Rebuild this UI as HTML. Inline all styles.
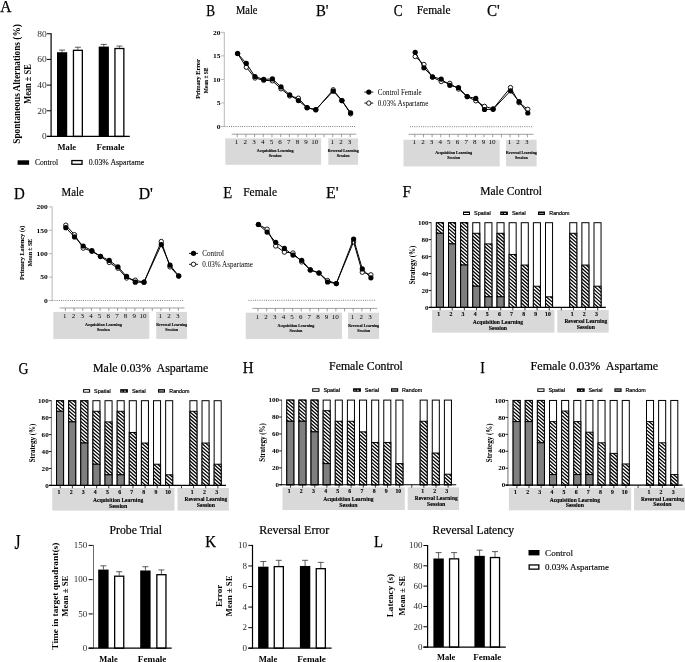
<!DOCTYPE html>
<html><head><meta charset="utf-8"><title>Figure</title>
<style>html,body{margin:0;padding:0;background:#fff}svg{display:block;will-change:transform;transform:translateZ(0)}.fs{font-family:"Liberation Serif",serif}.fn{font-family:"Liberation Sans",sans-serif}.b{font-weight:bold}</style>
</head><body>
<svg width="685" height="662" viewBox="0 0 685 662">
<rect width="685" height="662" fill="#fff"/>
<text class="fs" x="0.2" y="12.0" font-size="17" textLength="11.2" lengthAdjust="spacingAndGlyphs" stroke="#000" stroke-width="0.25">A</text>
<text class="fs" x="206.2" y="16.0" font-size="17" textLength="8.8" lengthAdjust="spacingAndGlyphs" stroke="#000" stroke-width="0.25">B</text>
<text class="fs" x="316.0" y="16.0" font-size="17" textLength="12.5" lengthAdjust="spacingAndGlyphs" stroke="#000" stroke-width="0.25">B'</text>
<text class="fs" x="393.8" y="16.4" font-size="17" textLength="8.9" lengthAdjust="spacingAndGlyphs" stroke="#000" stroke-width="0.25">C</text>
<text class="fs" x="487.0" y="16.4" font-size="17" textLength="12.8" lengthAdjust="spacingAndGlyphs" stroke="#000" stroke-width="0.25">C'</text>
<text class="fs" x="13.9" y="198.6" font-size="17" textLength="10.8" lengthAdjust="spacingAndGlyphs" stroke="#000" stroke-width="0.25">D</text>
<text class="fs" x="138.7" y="198.6" font-size="17" textLength="14.2" lengthAdjust="spacingAndGlyphs" stroke="#000" stroke-width="0.25">D'</text>
<text class="fs" x="223.3" y="197.6" font-size="17" textLength="9.0" lengthAdjust="spacingAndGlyphs" stroke="#000" stroke-width="0.25">E</text>
<text class="fs" x="326.0" y="197.6" font-size="17" textLength="12.6" lengthAdjust="spacingAndGlyphs" stroke="#000" stroke-width="0.25">E'</text>
<text class="fs" x="402.6" y="197.0" font-size="17" textLength="8.6" lengthAdjust="spacingAndGlyphs" stroke="#000" stroke-width="0.25">F</text>
<text class="fs" x="18.5" y="373.8" font-size="17" textLength="10.0" lengthAdjust="spacingAndGlyphs" stroke="#000" stroke-width="0.25">G</text>
<text class="fs" x="242.8" y="373.4" font-size="17" textLength="10.8" lengthAdjust="spacingAndGlyphs" stroke="#000" stroke-width="0.25">H</text>
<text class="fs" x="480.2" y="373.4" font-size="17" textLength="4.6" lengthAdjust="spacingAndGlyphs" stroke="#000" stroke-width="0.25">I</text>
<text class="fs" x="14.6" y="549.2" font-size="20" textLength="6.0" lengthAdjust="spacingAndGlyphs" stroke="#000" stroke-width="0.25">J</text>
<text class="fs" x="205.2" y="546.9" font-size="17" textLength="10.8" lengthAdjust="spacingAndGlyphs" stroke="#000" stroke-width="0.25">K</text>
<text class="fs" x="373.9" y="546.9" font-size="17" textLength="9.0" lengthAdjust="spacingAndGlyphs" stroke="#000" stroke-width="0.25">L</text>
<line x1="62.10" y1="50.05" x2="62.10" y2="52.24" stroke="#333" stroke-width="0.8"/>
<line x1="59.10" y1="50.05" x2="65.10" y2="50.05" stroke="#333" stroke-width="0.8"/>
<line x1="77.90" y1="47.23" x2="77.90" y2="49.67" stroke="#333" stroke-width="0.8"/>
<line x1="74.90" y1="47.23" x2="80.90" y2="47.23" stroke="#333" stroke-width="0.8"/>
<line x1="103.80" y1="44.41" x2="103.80" y2="46.59" stroke="#333" stroke-width="0.8"/>
<line x1="100.80" y1="44.41" x2="106.80" y2="44.41" stroke="#333" stroke-width="0.8"/>
<line x1="119.40" y1="46.07" x2="119.40" y2="47.87" stroke="#333" stroke-width="0.8"/>
<line x1="116.40" y1="46.07" x2="122.40" y2="46.07" stroke="#333" stroke-width="0.8"/>
<rect x="57.00" y="52.24" width="10.20" height="84.21" fill="#000"/>
<rect x="73.45" y="50.32" width="8.90" height="86.13" fill="#fff" stroke="#000" stroke-width="1.3"/>
<rect x="98.70" y="46.59" width="10.20" height="89.86" fill="#000"/>
<rect x="114.95" y="48.52" width="8.90" height="87.93" fill="#fff" stroke="#000" stroke-width="1.3"/>
<line x1="51.10" y1="33.25" x2="51.10" y2="137.05" stroke="#000" stroke-width="1.2"/>
<line x1="46.90" y1="136.45" x2="129.80" y2="136.45" stroke="#000" stroke-width="1.25"/>
<line x1="46.90" y1="136.45" x2="51.10" y2="136.45" stroke="#000" stroke-width="1.0"/>
<text class="fs" x="46.8" y="139.3" font-size="8.6" text-anchor="end" textLength="4.7" lengthAdjust="spacingAndGlyphs" fill="#2a2a2a">0</text>
<line x1="46.90" y1="110.77" x2="51.10" y2="110.77" stroke="#000" stroke-width="1.0"/>
<text class="fs" x="46.8" y="113.6" font-size="8.6" text-anchor="end" textLength="9.5" lengthAdjust="spacingAndGlyphs" fill="#2a2a2a">20</text>
<line x1="46.90" y1="85.10" x2="51.10" y2="85.10" stroke="#000" stroke-width="1.0"/>
<text class="fs" x="46.8" y="87.9" font-size="8.6" text-anchor="end" textLength="9.5" lengthAdjust="spacingAndGlyphs" fill="#2a2a2a">40</text>
<line x1="46.90" y1="59.42" x2="51.10" y2="59.42" stroke="#000" stroke-width="1.0"/>
<text class="fs" x="46.8" y="62.3" font-size="8.6" text-anchor="end" textLength="9.5" lengthAdjust="spacingAndGlyphs" fill="#2a2a2a">60</text>
<line x1="46.90" y1="33.75" x2="51.10" y2="33.75" stroke="#000" stroke-width="1.0"/>
<text class="fs" x="46.8" y="36.6" font-size="8.6" text-anchor="end" textLength="9.5" lengthAdjust="spacingAndGlyphs" fill="#2a2a2a">80</text>
<text class="fs b" x="66.8" y="149.7" font-size="9.1" text-anchor="middle" textLength="18.5" lengthAdjust="spacingAndGlyphs">Male</text>
<text class="fs b" x="110.4" y="149.7" font-size="9.1" text-anchor="middle" textLength="28.0" lengthAdjust="spacingAndGlyphs">Female</text>
<text class="fs b" font-size="9.4" text-anchor="middle" textLength="119.5" lengthAdjust="spacingAndGlyphs" transform="translate(19.6,84.0) rotate(-90)">Spontaneous Alternations (%)</text>
<text class="fs b" font-size="9.4" text-anchor="middle" textLength="39.5" lengthAdjust="spacingAndGlyphs" transform="translate(31.3,84.0) rotate(-90)">Mean ± SE</text>
<rect x="17.60" y="160.30" width="11.50" height="4.50" fill="#000"/>
<text class="fs" x="35.0" y="165.0" font-size="8.1" textLength="23.0" lengthAdjust="spacingAndGlyphs" stroke="#000" stroke-width="0.1">Control</text>
<rect x="71.85" y="160.55" width="10.20" height="3.70" fill="#fff" stroke="#000" stroke-width="1.3"/>
<text class="fs" x="88.7" y="165.0" font-size="8.1" textLength="55.6" lengthAdjust="spacingAndGlyphs" stroke="#000" stroke-width="0.1">0.03% Aspartame</text>
<text class="fs" x="236.0" y="13.7" font-size="11.7" textLength="21.5" lengthAdjust="spacingAndGlyphs" stroke="#000" stroke-width="0.2">Male</text>
<rect x="225.30" y="138.40" width="95.80" height="26.40" fill="#d9d9d9"/>
<rect x="328.30" y="138.40" width="29.80" height="26.40" fill="#d9d9d9"/>
<line x1="224.50" y1="126.50" x2="355.00" y2="126.50" stroke="#333" stroke-width="0.7" stroke-dasharray="0.9 1.3"/>
<line x1="231.70" y1="134.20" x2="356.30" y2="134.20" stroke="#777" stroke-width="0.7"/>
<line x1="237.20" y1="134.20" x2="237.20" y2="137.20" stroke="#777" stroke-width="0.7"/>
<line x1="245.89" y1="134.20" x2="245.89" y2="137.20" stroke="#777" stroke-width="0.7"/>
<line x1="254.58" y1="134.20" x2="254.58" y2="137.20" stroke="#777" stroke-width="0.7"/>
<line x1="263.27" y1="134.20" x2="263.27" y2="137.20" stroke="#777" stroke-width="0.7"/>
<line x1="271.96" y1="134.20" x2="271.96" y2="137.20" stroke="#777" stroke-width="0.7"/>
<line x1="280.65" y1="134.20" x2="280.65" y2="137.20" stroke="#777" stroke-width="0.7"/>
<line x1="289.34" y1="134.20" x2="289.34" y2="137.20" stroke="#777" stroke-width="0.7"/>
<line x1="298.03" y1="134.20" x2="298.03" y2="137.20" stroke="#777" stroke-width="0.7"/>
<line x1="306.72" y1="134.20" x2="306.72" y2="137.20" stroke="#777" stroke-width="0.7"/>
<line x1="315.41" y1="134.20" x2="315.41" y2="137.20" stroke="#777" stroke-width="0.7"/>
<line x1="324.10" y1="134.20" x2="324.10" y2="137.20" stroke="#777" stroke-width="0.7"/>
<line x1="332.79" y1="134.20" x2="332.79" y2="137.20" stroke="#777" stroke-width="0.7"/>
<line x1="341.48" y1="134.20" x2="341.48" y2="137.20" stroke="#777" stroke-width="0.7"/>
<line x1="350.17" y1="134.20" x2="350.17" y2="137.20" stroke="#777" stroke-width="0.7"/>
<text class="fs" x="236.6" y="144.3" font-size="6.5" text-anchor="middle" textLength="3.5" lengthAdjust="spacingAndGlyphs">1</text>
<text class="fs" x="245.3" y="144.3" font-size="6.5" text-anchor="middle" textLength="3.5" lengthAdjust="spacingAndGlyphs">2</text>
<text class="fs" x="254.0" y="144.3" font-size="6.5" text-anchor="middle" textLength="3.5" lengthAdjust="spacingAndGlyphs">3</text>
<text class="fs" x="262.7" y="144.3" font-size="6.5" text-anchor="middle" textLength="3.5" lengthAdjust="spacingAndGlyphs">4</text>
<text class="fs" x="271.4" y="144.3" font-size="6.5" text-anchor="middle" textLength="3.5" lengthAdjust="spacingAndGlyphs">5</text>
<text class="fs" x="280.0" y="144.3" font-size="6.5" text-anchor="middle" textLength="3.5" lengthAdjust="spacingAndGlyphs">6</text>
<text class="fs" x="288.7" y="144.3" font-size="6.5" text-anchor="middle" textLength="3.5" lengthAdjust="spacingAndGlyphs">7</text>
<text class="fs" x="297.4" y="144.3" font-size="6.5" text-anchor="middle" textLength="3.5" lengthAdjust="spacingAndGlyphs">8</text>
<text class="fs" x="306.1" y="144.3" font-size="6.5" text-anchor="middle" textLength="3.5" lengthAdjust="spacingAndGlyphs">9</text>
<text class="fs" x="314.8" y="144.3" font-size="6.5" text-anchor="middle" textLength="7.1" lengthAdjust="spacingAndGlyphs">10</text>
<text class="fs" x="332.2" y="144.3" font-size="6.5" text-anchor="middle" textLength="3.5" lengthAdjust="spacingAndGlyphs">1</text>
<text class="fs" x="340.9" y="144.3" font-size="6.5" text-anchor="middle" textLength="3.5" lengthAdjust="spacingAndGlyphs">2</text>
<text class="fs" x="349.6" y="144.3" font-size="6.5" text-anchor="middle" textLength="3.5" lengthAdjust="spacingAndGlyphs">3</text>
<text class="fs b" x="275.2" y="152.4" font-size="4.7" text-anchor="middle" textLength="36.8" lengthAdjust="spacingAndGlyphs" stroke="#000" stroke-width="0.12">Acquisition Learning</text>
<text class="fs b" x="275.2" y="157.2" font-size="4.7" text-anchor="middle" textLength="12.8" lengthAdjust="spacingAndGlyphs" stroke="#000" stroke-width="0.12">Session</text>
<text class="fs b" x="343.2" y="152.4" font-size="4.7" text-anchor="middle" textLength="30.8" lengthAdjust="spacingAndGlyphs" stroke="#000" stroke-width="0.12">Reversal Learning</text>
<text class="fs b" x="343.2" y="157.2" font-size="4.7" text-anchor="middle" textLength="12.8" lengthAdjust="spacingAndGlyphs" stroke="#000" stroke-width="0.12">Session</text>
<line x1="224.30" y1="32.00" x2="224.30" y2="126.80" stroke="#999" stroke-width="0.7"/>
<line x1="221.10" y1="126.50" x2="224.30" y2="126.50" stroke="#999" stroke-width="0.7"/>
<text class="fs b" x="220.6" y="128.8" font-size="6.6" text-anchor="end" textLength="3.8" lengthAdjust="spacingAndGlyphs">0</text>
<line x1="221.10" y1="102.95" x2="224.30" y2="102.95" stroke="#999" stroke-width="0.7"/>
<text class="fs b" x="220.6" y="105.2" font-size="6.6" text-anchor="end" textLength="3.8" lengthAdjust="spacingAndGlyphs">5</text>
<line x1="221.10" y1="79.40" x2="224.30" y2="79.40" stroke="#999" stroke-width="0.7"/>
<text class="fs b" x="220.6" y="81.7" font-size="6.6" text-anchor="end" textLength="7.5" lengthAdjust="spacingAndGlyphs">10</text>
<line x1="221.10" y1="55.85" x2="224.30" y2="55.85" stroke="#999" stroke-width="0.7"/>
<text class="fs b" x="220.6" y="58.1" font-size="6.6" text-anchor="end" textLength="7.5" lengthAdjust="spacingAndGlyphs">15</text>
<line x1="221.10" y1="32.30" x2="224.30" y2="32.30" stroke="#999" stroke-width="0.7"/>
<text class="fs b" x="220.6" y="34.5" font-size="6.6" text-anchor="end" textLength="7.5" lengthAdjust="spacingAndGlyphs">20</text>
<polyline fill="none" stroke="#000" stroke-width="1.0" stroke-linejoin="round" points="237.6,53.5 246.3,67.2 255.0,78.0 263.7,80.3 272.4,80.8 281.0,88.8 289.7,95.9 298.4,98.2 307.1,107.7 315.8,110.0 333.2,89.8 341.9,100.6 350.6,113.8"/>
<circle cx="237.6" cy="53.5" r="2.2" fill="#fff" stroke="#000" stroke-width="0.9"/>
<circle cx="246.3" cy="67.2" r="2.2" fill="#fff" stroke="#000" stroke-width="0.9"/>
<circle cx="255.0" cy="78.0" r="2.2" fill="#fff" stroke="#000" stroke-width="0.9"/>
<circle cx="263.7" cy="80.3" r="2.2" fill="#fff" stroke="#000" stroke-width="0.9"/>
<circle cx="272.4" cy="80.8" r="2.2" fill="#fff" stroke="#000" stroke-width="0.9"/>
<circle cx="281.0" cy="88.8" r="2.2" fill="#fff" stroke="#000" stroke-width="0.9"/>
<circle cx="289.7" cy="95.9" r="2.2" fill="#fff" stroke="#000" stroke-width="0.9"/>
<circle cx="298.4" cy="98.2" r="2.2" fill="#fff" stroke="#000" stroke-width="0.9"/>
<circle cx="307.1" cy="107.7" r="2.2" fill="#fff" stroke="#000" stroke-width="0.9"/>
<circle cx="315.8" cy="110.0" r="2.2" fill="#fff" stroke="#000" stroke-width="0.9"/>
<circle cx="333.2" cy="89.8" r="2.2" fill="#fff" stroke="#000" stroke-width="0.9"/>
<circle cx="341.9" cy="100.6" r="2.2" fill="#fff" stroke="#000" stroke-width="0.9"/>
<circle cx="350.6" cy="113.8" r="2.2" fill="#fff" stroke="#000" stroke-width="0.9"/>
<polyline fill="none" stroke="#000" stroke-width="1.0" stroke-linejoin="round" points="237.6,53.5 246.3,63.4 255.0,76.6 263.7,79.4 272.4,78.9 281.0,86.9 289.7,94.9 298.4,100.6 307.1,107.7 315.8,109.5 333.2,91.2 341.9,100.6 350.6,112.8"/>
<circle cx="237.6" cy="53.5" r="2.6" fill="#000"/>
<circle cx="246.3" cy="63.4" r="2.6" fill="#000"/>
<circle cx="255.0" cy="76.6" r="2.6" fill="#000"/>
<circle cx="263.7" cy="79.4" r="2.6" fill="#000"/>
<circle cx="272.4" cy="78.9" r="2.6" fill="#000"/>
<circle cx="281.0" cy="86.9" r="2.6" fill="#000"/>
<circle cx="289.7" cy="94.9" r="2.6" fill="#000"/>
<circle cx="298.4" cy="100.6" r="2.6" fill="#000"/>
<circle cx="307.1" cy="107.7" r="2.6" fill="#000"/>
<circle cx="315.8" cy="109.5" r="2.6" fill="#000"/>
<circle cx="333.2" cy="91.2" r="2.6" fill="#000"/>
<circle cx="341.9" cy="100.6" r="2.6" fill="#000"/>
<circle cx="350.6" cy="112.8" r="2.6" fill="#000"/>
<text class="fs b" font-size="6.8" text-anchor="middle" textLength="39.5" lengthAdjust="spacingAndGlyphs" stroke="#000" stroke-width="0.1" transform="translate(199.5,79.0) rotate(-90)">Primary Error</text>
<text class="fs b" font-size="6.6" text-anchor="middle" textLength="25.8" lengthAdjust="spacingAndGlyphs" stroke="#000" stroke-width="0.1" transform="translate(207.9,80.4) rotate(-90)">Mean ± SE</text>
<text class="fs" x="416.7" y="13.5" font-size="11.7" textLength="33.8" lengthAdjust="spacingAndGlyphs" stroke="#000" stroke-width="0.2">Female</text>
<rect x="403.50" y="139.70" width="96.20" height="26.70" fill="#d9d9d9"/>
<rect x="506.10" y="139.70" width="30.50" height="26.70" fill="#d9d9d9"/>
<line x1="410.00" y1="126.70" x2="532.80" y2="126.70" stroke="#333" stroke-width="0.7" stroke-dasharray="0.9 1.3"/>
<line x1="408.60" y1="134.30" x2="533.60" y2="134.30" stroke="#777" stroke-width="0.7"/>
<line x1="414.80" y1="134.30" x2="414.80" y2="137.30" stroke="#777" stroke-width="0.7"/>
<line x1="423.46" y1="134.30" x2="423.46" y2="137.30" stroke="#777" stroke-width="0.7"/>
<line x1="432.12" y1="134.30" x2="432.12" y2="137.30" stroke="#777" stroke-width="0.7"/>
<line x1="440.78" y1="134.30" x2="440.78" y2="137.30" stroke="#777" stroke-width="0.7"/>
<line x1="449.44" y1="134.30" x2="449.44" y2="137.30" stroke="#777" stroke-width="0.7"/>
<line x1="458.10" y1="134.30" x2="458.10" y2="137.30" stroke="#777" stroke-width="0.7"/>
<line x1="466.76" y1="134.30" x2="466.76" y2="137.30" stroke="#777" stroke-width="0.7"/>
<line x1="475.42" y1="134.30" x2="475.42" y2="137.30" stroke="#777" stroke-width="0.7"/>
<line x1="484.08" y1="134.30" x2="484.08" y2="137.30" stroke="#777" stroke-width="0.7"/>
<line x1="492.74" y1="134.30" x2="492.74" y2="137.30" stroke="#777" stroke-width="0.7"/>
<line x1="501.40" y1="134.30" x2="501.40" y2="137.30" stroke="#777" stroke-width="0.7"/>
<line x1="510.06" y1="134.30" x2="510.06" y2="137.30" stroke="#777" stroke-width="0.7"/>
<line x1="518.72" y1="134.30" x2="518.72" y2="137.30" stroke="#777" stroke-width="0.7"/>
<line x1="527.38" y1="134.30" x2="527.38" y2="137.30" stroke="#777" stroke-width="0.7"/>
<text class="fs" x="414.2" y="144.0" font-size="6.5" text-anchor="middle" textLength="3.5" lengthAdjust="spacingAndGlyphs">1</text>
<text class="fs" x="422.9" y="144.0" font-size="6.5" text-anchor="middle" textLength="3.5" lengthAdjust="spacingAndGlyphs">2</text>
<text class="fs" x="431.5" y="144.0" font-size="6.5" text-anchor="middle" textLength="3.5" lengthAdjust="spacingAndGlyphs">3</text>
<text class="fs" x="440.2" y="144.0" font-size="6.5" text-anchor="middle" textLength="3.5" lengthAdjust="spacingAndGlyphs">4</text>
<text class="fs" x="448.8" y="144.0" font-size="6.5" text-anchor="middle" textLength="3.5" lengthAdjust="spacingAndGlyphs">5</text>
<text class="fs" x="457.5" y="144.0" font-size="6.5" text-anchor="middle" textLength="3.5" lengthAdjust="spacingAndGlyphs">6</text>
<text class="fs" x="466.2" y="144.0" font-size="6.5" text-anchor="middle" textLength="3.5" lengthAdjust="spacingAndGlyphs">7</text>
<text class="fs" x="474.8" y="144.0" font-size="6.5" text-anchor="middle" textLength="3.5" lengthAdjust="spacingAndGlyphs">8</text>
<text class="fs" x="483.5" y="144.0" font-size="6.5" text-anchor="middle" textLength="3.5" lengthAdjust="spacingAndGlyphs">9</text>
<text class="fs" x="492.1" y="144.0" font-size="6.5" text-anchor="middle" textLength="7.1" lengthAdjust="spacingAndGlyphs">10</text>
<text class="fs" x="509.5" y="144.0" font-size="6.5" text-anchor="middle" textLength="3.5" lengthAdjust="spacingAndGlyphs">1</text>
<text class="fs" x="518.1" y="144.0" font-size="6.5" text-anchor="middle" textLength="3.5" lengthAdjust="spacingAndGlyphs">2</text>
<text class="fs" x="526.8" y="144.0" font-size="6.5" text-anchor="middle" textLength="3.5" lengthAdjust="spacingAndGlyphs">3</text>
<text class="fs b" x="453.6" y="153.7" font-size="4.7" text-anchor="middle" textLength="36.8" lengthAdjust="spacingAndGlyphs" stroke="#000" stroke-width="0.12">Acquisition Learning</text>
<text class="fs b" x="453.6" y="158.5" font-size="4.7" text-anchor="middle" textLength="12.8" lengthAdjust="spacingAndGlyphs" stroke="#000" stroke-width="0.12">Session</text>
<text class="fs b" x="521.4" y="153.7" font-size="4.7" text-anchor="middle" textLength="30.8" lengthAdjust="spacingAndGlyphs" stroke="#000" stroke-width="0.12">Reversal Learning</text>
<text class="fs b" x="521.4" y="158.5" font-size="4.7" text-anchor="middle" textLength="12.8" lengthAdjust="spacingAndGlyphs" stroke="#000" stroke-width="0.12">Session</text>
<polyline fill="none" stroke="#000" stroke-width="1.0" stroke-linejoin="round" points="415.2,56.5 423.9,64.5 432.5,77.2 441.2,81.5 449.8,83.4 458.5,89.0 467.2,96.6 475.8,100.8 484.5,106.4 493.1,108.8 510.5,87.6 519.1,102.7 527.8,109.3"/>
<circle cx="415.2" cy="56.5" r="2.2" fill="#fff" stroke="#000" stroke-width="0.9"/>
<circle cx="423.9" cy="64.5" r="2.2" fill="#fff" stroke="#000" stroke-width="0.9"/>
<circle cx="432.5" cy="77.2" r="2.2" fill="#fff" stroke="#000" stroke-width="0.9"/>
<circle cx="441.2" cy="81.5" r="2.2" fill="#fff" stroke="#000" stroke-width="0.9"/>
<circle cx="449.8" cy="83.4" r="2.2" fill="#fff" stroke="#000" stroke-width="0.9"/>
<circle cx="458.5" cy="89.0" r="2.2" fill="#fff" stroke="#000" stroke-width="0.9"/>
<circle cx="467.2" cy="96.6" r="2.2" fill="#fff" stroke="#000" stroke-width="0.9"/>
<circle cx="475.8" cy="100.8" r="2.2" fill="#fff" stroke="#000" stroke-width="0.9"/>
<circle cx="484.5" cy="106.4" r="2.2" fill="#fff" stroke="#000" stroke-width="0.9"/>
<circle cx="493.1" cy="108.8" r="2.2" fill="#fff" stroke="#000" stroke-width="0.9"/>
<circle cx="510.5" cy="87.6" r="2.2" fill="#fff" stroke="#000" stroke-width="0.9"/>
<circle cx="519.1" cy="102.7" r="2.2" fill="#fff" stroke="#000" stroke-width="0.9"/>
<circle cx="527.8" cy="109.3" r="2.2" fill="#fff" stroke="#000" stroke-width="0.9"/>
<polyline fill="none" stroke="#000" stroke-width="1.0" stroke-linejoin="round" points="415.2,52.3 423.9,67.8 432.5,76.8 441.2,79.1 449.8,85.3 458.5,87.6 467.2,96.6 475.8,98.4 484.5,109.5 493.1,109.3 510.5,90.9 519.1,101.7 527.8,113.0"/>
<circle cx="415.2" cy="52.3" r="2.6" fill="#000"/>
<circle cx="423.9" cy="67.8" r="2.6" fill="#000"/>
<circle cx="432.5" cy="76.8" r="2.6" fill="#000"/>
<circle cx="441.2" cy="79.1" r="2.6" fill="#000"/>
<circle cx="449.8" cy="85.3" r="2.6" fill="#000"/>
<circle cx="458.5" cy="87.6" r="2.6" fill="#000"/>
<circle cx="467.2" cy="96.6" r="2.6" fill="#000"/>
<circle cx="475.8" cy="98.4" r="2.6" fill="#000"/>
<circle cx="484.5" cy="109.5" r="2.6" fill="#000"/>
<circle cx="493.1" cy="109.3" r="2.6" fill="#000"/>
<circle cx="510.5" cy="90.9" r="2.6" fill="#000"/>
<circle cx="519.1" cy="101.7" r="2.6" fill="#000"/>
<circle cx="527.8" cy="113.0" r="2.6" fill="#000"/>
<line x1="364.30" y1="92.10" x2="373.30" y2="92.10" stroke="#000" stroke-width="0.9"/>
<circle cx="368.8" cy="92.1" r="2.6" fill="#000"/>
<line x1="364.30" y1="103.10" x2="373.30" y2="103.10" stroke="#000" stroke-width="0.9"/>
<circle cx="368.8" cy="103.1" r="2.2" fill="#fff" stroke="#000" stroke-width="0.9"/>
<text class="fs" x="377.8" y="94.5" font-size="7.7" textLength="43.8" lengthAdjust="spacingAndGlyphs">Control Female</text>
<text class="fs" x="377.8" y="105.5" font-size="7.7" textLength="50.5" lengthAdjust="spacingAndGlyphs">0.03% Aspartame</text>
<text class="fs" x="61.6" y="195.8" font-size="11.7" textLength="22.2" lengthAdjust="spacingAndGlyphs" stroke="#000" stroke-width="0.2">Male</text>
<rect x="53.30" y="311.90" width="96.00" height="27.00" fill="#d9d9d9"/>
<rect x="156.20" y="311.90" width="30.80" height="27.00" fill="#d9d9d9"/>
<line x1="52.30" y1="300.50" x2="183.00" y2="300.50" stroke="#333" stroke-width="0.7" stroke-dasharray="0.9 1.3"/>
<line x1="59.60" y1="308.00" x2="184.50" y2="308.00" stroke="#777" stroke-width="0.7"/>
<line x1="65.40" y1="308.00" x2="65.40" y2="311.00" stroke="#777" stroke-width="0.7"/>
<line x1="74.09" y1="308.00" x2="74.09" y2="311.00" stroke="#777" stroke-width="0.7"/>
<line x1="82.77" y1="308.00" x2="82.77" y2="311.00" stroke="#777" stroke-width="0.7"/>
<line x1="91.46" y1="308.00" x2="91.46" y2="311.00" stroke="#777" stroke-width="0.7"/>
<line x1="100.14" y1="308.00" x2="100.14" y2="311.00" stroke="#777" stroke-width="0.7"/>
<line x1="108.83" y1="308.00" x2="108.83" y2="311.00" stroke="#777" stroke-width="0.7"/>
<line x1="117.52" y1="308.00" x2="117.52" y2="311.00" stroke="#777" stroke-width="0.7"/>
<line x1="126.20" y1="308.00" x2="126.20" y2="311.00" stroke="#777" stroke-width="0.7"/>
<line x1="134.89" y1="308.00" x2="134.89" y2="311.00" stroke="#777" stroke-width="0.7"/>
<line x1="143.57" y1="308.00" x2="143.57" y2="311.00" stroke="#777" stroke-width="0.7"/>
<line x1="152.26" y1="308.00" x2="152.26" y2="311.00" stroke="#777" stroke-width="0.7"/>
<line x1="160.95" y1="308.00" x2="160.95" y2="311.00" stroke="#777" stroke-width="0.7"/>
<line x1="169.63" y1="308.00" x2="169.63" y2="311.00" stroke="#777" stroke-width="0.7"/>
<line x1="178.32" y1="308.00" x2="178.32" y2="311.00" stroke="#777" stroke-width="0.7"/>
<text class="fs" x="64.8" y="317.8" font-size="6.5" text-anchor="middle" textLength="3.5" lengthAdjust="spacingAndGlyphs">1</text>
<text class="fs" x="73.5" y="317.8" font-size="6.5" text-anchor="middle" textLength="3.5" lengthAdjust="spacingAndGlyphs">2</text>
<text class="fs" x="82.2" y="317.8" font-size="6.5" text-anchor="middle" textLength="3.5" lengthAdjust="spacingAndGlyphs">3</text>
<text class="fs" x="90.9" y="317.8" font-size="6.5" text-anchor="middle" textLength="3.5" lengthAdjust="spacingAndGlyphs">4</text>
<text class="fs" x="99.5" y="317.8" font-size="6.5" text-anchor="middle" textLength="3.5" lengthAdjust="spacingAndGlyphs">5</text>
<text class="fs" x="108.2" y="317.8" font-size="6.5" text-anchor="middle" textLength="3.5" lengthAdjust="spacingAndGlyphs">6</text>
<text class="fs" x="116.9" y="317.8" font-size="6.5" text-anchor="middle" textLength="3.5" lengthAdjust="spacingAndGlyphs">7</text>
<text class="fs" x="125.6" y="317.8" font-size="6.5" text-anchor="middle" textLength="3.5" lengthAdjust="spacingAndGlyphs">8</text>
<text class="fs" x="134.3" y="317.8" font-size="6.5" text-anchor="middle" textLength="3.5" lengthAdjust="spacingAndGlyphs">9</text>
<text class="fs" x="143.0" y="317.8" font-size="6.5" text-anchor="middle" textLength="7.1" lengthAdjust="spacingAndGlyphs">10</text>
<text class="fs" x="160.3" y="317.8" font-size="6.5" text-anchor="middle" textLength="3.5" lengthAdjust="spacingAndGlyphs">1</text>
<text class="fs" x="169.0" y="317.8" font-size="6.5" text-anchor="middle" textLength="3.5" lengthAdjust="spacingAndGlyphs">2</text>
<text class="fs" x="177.7" y="317.8" font-size="6.5" text-anchor="middle" textLength="3.5" lengthAdjust="spacingAndGlyphs">3</text>
<text class="fs b" x="103.3" y="325.9" font-size="4.7" text-anchor="middle" textLength="36.8" lengthAdjust="spacingAndGlyphs" stroke="#000" stroke-width="0.12">Acquisition Learning</text>
<text class="fs b" x="103.3" y="330.7" font-size="4.7" text-anchor="middle" textLength="12.8" lengthAdjust="spacingAndGlyphs" stroke="#000" stroke-width="0.12">Session</text>
<text class="fs b" x="171.6" y="325.9" font-size="4.7" text-anchor="middle" textLength="30.8" lengthAdjust="spacingAndGlyphs" stroke="#000" stroke-width="0.12">Reversal Learning</text>
<text class="fs b" x="171.6" y="330.7" font-size="4.7" text-anchor="middle" textLength="12.8" lengthAdjust="spacingAndGlyphs" stroke="#000" stroke-width="0.12">Session</text>
<line x1="52.10" y1="206.60" x2="52.10" y2="300.80" stroke="#999" stroke-width="0.7"/>
<line x1="48.90" y1="300.50" x2="52.10" y2="300.50" stroke="#999" stroke-width="0.7"/>
<text class="fs b" x="47.7" y="302.8" font-size="6.6" text-anchor="end" textLength="3.8" lengthAdjust="spacingAndGlyphs">0</text>
<line x1="48.90" y1="277.10" x2="52.10" y2="277.10" stroke="#999" stroke-width="0.7"/>
<text class="fs b" x="47.7" y="279.4" font-size="6.6" text-anchor="end" textLength="7.5" lengthAdjust="spacingAndGlyphs">50</text>
<line x1="48.90" y1="253.70" x2="52.10" y2="253.70" stroke="#999" stroke-width="0.7"/>
<text class="fs b" x="47.7" y="255.9" font-size="6.6" text-anchor="end" textLength="11.2" lengthAdjust="spacingAndGlyphs">100</text>
<line x1="48.90" y1="230.30" x2="52.10" y2="230.30" stroke="#999" stroke-width="0.7"/>
<text class="fs b" x="47.7" y="232.6" font-size="6.6" text-anchor="end" textLength="11.2" lengthAdjust="spacingAndGlyphs">150</text>
<line x1="48.90" y1="206.90" x2="52.10" y2="206.90" stroke="#999" stroke-width="0.7"/>
<text class="fs b" x="47.7" y="209.1" font-size="6.6" text-anchor="end" textLength="11.2" lengthAdjust="spacingAndGlyphs">200</text>
<polyline fill="none" stroke="#000" stroke-width="1.0" stroke-linejoin="round" points="65.8,225.2 74.5,234.7 83.2,248.1 91.9,251.4 100.5,256.5 109.2,262.4 117.9,268.2 126.6,278.0 135.3,280.2 144.0,282.2 161.3,241.5 170.0,266.9 178.7,276.2"/>
<circle cx="65.8" cy="225.2" r="2.2" fill="#fff" stroke="#000" stroke-width="0.9"/>
<circle cx="74.5" cy="234.7" r="2.2" fill="#fff" stroke="#000" stroke-width="0.9"/>
<circle cx="83.2" cy="248.1" r="2.2" fill="#fff" stroke="#000" stroke-width="0.9"/>
<circle cx="91.9" cy="251.4" r="2.2" fill="#fff" stroke="#000" stroke-width="0.9"/>
<circle cx="100.5" cy="256.5" r="2.2" fill="#fff" stroke="#000" stroke-width="0.9"/>
<circle cx="109.2" cy="262.4" r="2.2" fill="#fff" stroke="#000" stroke-width="0.9"/>
<circle cx="117.9" cy="268.2" r="2.2" fill="#fff" stroke="#000" stroke-width="0.9"/>
<circle cx="126.6" cy="278.0" r="2.2" fill="#fff" stroke="#000" stroke-width="0.9"/>
<circle cx="135.3" cy="280.2" r="2.2" fill="#fff" stroke="#000" stroke-width="0.9"/>
<circle cx="144.0" cy="282.2" r="2.2" fill="#fff" stroke="#000" stroke-width="0.9"/>
<circle cx="161.3" cy="241.5" r="2.2" fill="#fff" stroke="#000" stroke-width="0.9"/>
<circle cx="170.0" cy="266.9" r="2.2" fill="#fff" stroke="#000" stroke-width="0.9"/>
<circle cx="178.7" cy="276.2" r="2.2" fill="#fff" stroke="#000" stroke-width="0.9"/>
<polyline fill="none" stroke="#000" stroke-width="1.0" stroke-linejoin="round" points="65.8,227.7 74.5,236.9 83.2,246.0 91.9,250.7 100.5,256.3 109.2,260.4 117.9,266.8 126.6,276.4 135.3,282.2 144.0,282.2 161.3,244.6 170.0,265.2 178.7,275.8"/>
<circle cx="65.8" cy="227.7" r="2.6" fill="#000"/>
<circle cx="74.5" cy="236.9" r="2.6" fill="#000"/>
<circle cx="83.2" cy="246.0" r="2.6" fill="#000"/>
<circle cx="91.9" cy="250.7" r="2.6" fill="#000"/>
<circle cx="100.5" cy="256.3" r="2.6" fill="#000"/>
<circle cx="109.2" cy="260.4" r="2.6" fill="#000"/>
<circle cx="117.9" cy="266.8" r="2.6" fill="#000"/>
<circle cx="126.6" cy="276.4" r="2.6" fill="#000"/>
<circle cx="135.3" cy="282.2" r="2.6" fill="#000"/>
<circle cx="144.0" cy="282.2" r="2.6" fill="#000"/>
<circle cx="161.3" cy="244.6" r="2.6" fill="#000"/>
<circle cx="170.0" cy="265.2" r="2.6" fill="#000"/>
<circle cx="178.7" cy="275.8" r="2.6" fill="#000"/>
<text class="fs b" font-size="6.9" text-anchor="middle" textLength="54.5" lengthAdjust="spacingAndGlyphs" stroke="#000" stroke-width="0.1" transform="translate(24.1,252.8) rotate(-90)">Primary Latency (s)</text>
<text class="fs b" font-size="6.8" text-anchor="middle" textLength="27.5" lengthAdjust="spacingAndGlyphs" stroke="#000" stroke-width="0.1" transform="translate(32.4,252.6) rotate(-90)">Mean ± SE</text>
<line x1="189.00" y1="253.40" x2="198.00" y2="253.40" stroke="#000" stroke-width="0.9"/>
<circle cx="193.5" cy="253.4" r="2.6" fill="#000"/>
<line x1="189.00" y1="264.30" x2="198.00" y2="264.30" stroke="#000" stroke-width="0.9"/>
<circle cx="193.5" cy="264.3" r="2.2" fill="#fff" stroke="#000" stroke-width="0.9"/>
<text class="fs" x="202.3" y="255.8" font-size="7.7" textLength="21.8" lengthAdjust="spacingAndGlyphs">Control</text>
<text class="fs" x="202.3" y="266.7" font-size="7.7" textLength="50.7" lengthAdjust="spacingAndGlyphs">0.03% Aspartame</text>
<text class="fs" x="243.2" y="195.9" font-size="11.7" textLength="33.8" lengthAdjust="spacingAndGlyphs" stroke="#000" stroke-width="0.2">Female</text>
<rect x="245.70" y="312.70" width="96.30" height="26.20" fill="#d9d9d9"/>
<rect x="348.10" y="312.70" width="31.00" height="26.20" fill="#d9d9d9"/>
<line x1="248.50" y1="300.30" x2="376.00" y2="300.30" stroke="#333" stroke-width="0.7" stroke-dasharray="0.9 1.3"/>
<line x1="252.40" y1="308.40" x2="377.20" y2="308.40" stroke="#777" stroke-width="0.7"/>
<line x1="258.00" y1="308.40" x2="258.00" y2="311.40" stroke="#777" stroke-width="0.7"/>
<line x1="266.65" y1="308.40" x2="266.65" y2="311.40" stroke="#777" stroke-width="0.7"/>
<line x1="275.31" y1="308.40" x2="275.31" y2="311.40" stroke="#777" stroke-width="0.7"/>
<line x1="283.96" y1="308.40" x2="283.96" y2="311.40" stroke="#777" stroke-width="0.7"/>
<line x1="292.62" y1="308.40" x2="292.62" y2="311.40" stroke="#777" stroke-width="0.7"/>
<line x1="301.27" y1="308.40" x2="301.27" y2="311.40" stroke="#777" stroke-width="0.7"/>
<line x1="309.93" y1="308.40" x2="309.93" y2="311.40" stroke="#777" stroke-width="0.7"/>
<line x1="318.58" y1="308.40" x2="318.58" y2="311.40" stroke="#777" stroke-width="0.7"/>
<line x1="327.24" y1="308.40" x2="327.24" y2="311.40" stroke="#777" stroke-width="0.7"/>
<line x1="335.89" y1="308.40" x2="335.89" y2="311.40" stroke="#777" stroke-width="0.7"/>
<line x1="344.55" y1="308.40" x2="344.55" y2="311.40" stroke="#777" stroke-width="0.7"/>
<line x1="353.20" y1="308.40" x2="353.20" y2="311.40" stroke="#777" stroke-width="0.7"/>
<line x1="361.86" y1="308.40" x2="361.86" y2="311.40" stroke="#777" stroke-width="0.7"/>
<line x1="370.51" y1="308.40" x2="370.51" y2="311.40" stroke="#777" stroke-width="0.7"/>
<text class="fs" x="257.4" y="318.6" font-size="6.5" text-anchor="middle" textLength="3.5" lengthAdjust="spacingAndGlyphs">1</text>
<text class="fs" x="266.1" y="318.6" font-size="6.5" text-anchor="middle" textLength="3.5" lengthAdjust="spacingAndGlyphs">2</text>
<text class="fs" x="274.7" y="318.6" font-size="6.5" text-anchor="middle" textLength="3.5" lengthAdjust="spacingAndGlyphs">3</text>
<text class="fs" x="283.4" y="318.6" font-size="6.5" text-anchor="middle" textLength="3.5" lengthAdjust="spacingAndGlyphs">4</text>
<text class="fs" x="292.0" y="318.6" font-size="6.5" text-anchor="middle" textLength="3.5" lengthAdjust="spacingAndGlyphs">5</text>
<text class="fs" x="300.7" y="318.6" font-size="6.5" text-anchor="middle" textLength="3.5" lengthAdjust="spacingAndGlyphs">6</text>
<text class="fs" x="309.3" y="318.6" font-size="6.5" text-anchor="middle" textLength="3.5" lengthAdjust="spacingAndGlyphs">7</text>
<text class="fs" x="318.0" y="318.6" font-size="6.5" text-anchor="middle" textLength="3.5" lengthAdjust="spacingAndGlyphs">8</text>
<text class="fs" x="326.6" y="318.6" font-size="6.5" text-anchor="middle" textLength="3.5" lengthAdjust="spacingAndGlyphs">9</text>
<text class="fs" x="335.3" y="318.6" font-size="6.5" text-anchor="middle" textLength="7.1" lengthAdjust="spacingAndGlyphs">10</text>
<text class="fs" x="352.6" y="318.6" font-size="6.5" text-anchor="middle" textLength="3.5" lengthAdjust="spacingAndGlyphs">1</text>
<text class="fs" x="361.3" y="318.6" font-size="6.5" text-anchor="middle" textLength="3.5" lengthAdjust="spacingAndGlyphs">2</text>
<text class="fs" x="369.9" y="318.6" font-size="6.5" text-anchor="middle" textLength="3.5" lengthAdjust="spacingAndGlyphs">3</text>
<text class="fs b" x="295.9" y="326.7" font-size="4.7" text-anchor="middle" textLength="36.8" lengthAdjust="spacingAndGlyphs" stroke="#000" stroke-width="0.12">Acquisition Learning</text>
<text class="fs b" x="295.9" y="331.5" font-size="4.7" text-anchor="middle" textLength="12.8" lengthAdjust="spacingAndGlyphs" stroke="#000" stroke-width="0.12">Session</text>
<text class="fs b" x="363.6" y="326.7" font-size="4.7" text-anchor="middle" textLength="30.8" lengthAdjust="spacingAndGlyphs" stroke="#000" stroke-width="0.12">Reversal Learning</text>
<text class="fs b" x="363.6" y="331.5" font-size="4.7" text-anchor="middle" textLength="12.8" lengthAdjust="spacingAndGlyphs" stroke="#000" stroke-width="0.12">Session</text>
<polyline fill="none" stroke="#000" stroke-width="1.0" stroke-linejoin="round" points="258.4,224.5 267.1,229.2 275.7,246.0 284.4,252.1 293.0,253.0 301.7,261.9 310.3,269.9 319.0,273.0 327.6,280.6 336.3,283.5 353.6,241.8 362.3,272.2 370.9,274.8"/>
<circle cx="258.4" cy="224.5" r="2.2" fill="#fff" stroke="#000" stroke-width="0.9"/>
<circle cx="267.1" cy="229.2" r="2.2" fill="#fff" stroke="#000" stroke-width="0.9"/>
<circle cx="275.7" cy="246.0" r="2.2" fill="#fff" stroke="#000" stroke-width="0.9"/>
<circle cx="284.4" cy="252.1" r="2.2" fill="#fff" stroke="#000" stroke-width="0.9"/>
<circle cx="293.0" cy="253.0" r="2.2" fill="#fff" stroke="#000" stroke-width="0.9"/>
<circle cx="301.7" cy="261.9" r="2.2" fill="#fff" stroke="#000" stroke-width="0.9"/>
<circle cx="310.3" cy="269.9" r="2.2" fill="#fff" stroke="#000" stroke-width="0.9"/>
<circle cx="319.0" cy="273.0" r="2.2" fill="#fff" stroke="#000" stroke-width="0.9"/>
<circle cx="327.6" cy="280.6" r="2.2" fill="#fff" stroke="#000" stroke-width="0.9"/>
<circle cx="336.3" cy="283.5" r="2.2" fill="#fff" stroke="#000" stroke-width="0.9"/>
<circle cx="353.6" cy="241.8" r="2.2" fill="#fff" stroke="#000" stroke-width="0.9"/>
<circle cx="362.3" cy="272.2" r="2.2" fill="#fff" stroke="#000" stroke-width="0.9"/>
<circle cx="370.9" cy="274.8" r="2.2" fill="#fff" stroke="#000" stroke-width="0.9"/>
<polyline fill="none" stroke="#000" stroke-width="1.0" stroke-linejoin="round" points="258.4,224.5 267.1,232.1 275.7,242.3 284.4,248.4 293.0,255.1 301.7,260.3 310.3,269.9 319.0,273.0 327.6,282.0 336.3,283.6 353.6,239.0 362.3,268.9 370.9,277.8"/>
<circle cx="258.4" cy="224.5" r="2.6" fill="#000"/>
<circle cx="267.1" cy="232.1" r="2.6" fill="#000"/>
<circle cx="275.7" cy="242.3" r="2.6" fill="#000"/>
<circle cx="284.4" cy="248.4" r="2.6" fill="#000"/>
<circle cx="293.0" cy="255.1" r="2.6" fill="#000"/>
<circle cx="301.7" cy="260.3" r="2.6" fill="#000"/>
<circle cx="310.3" cy="269.9" r="2.6" fill="#000"/>
<circle cx="319.0" cy="273.0" r="2.6" fill="#000"/>
<circle cx="327.6" cy="282.0" r="2.6" fill="#000"/>
<circle cx="336.3" cy="283.6" r="2.6" fill="#000"/>
<circle cx="353.6" cy="239.0" r="2.6" fill="#000"/>
<circle cx="362.3" cy="268.9" r="2.6" fill="#000"/>
<circle cx="370.9" cy="277.8" r="2.6" fill="#000"/>
<rect x="432.10" y="310.00" width="122.30" height="22.60" fill="#d9d9d9"/>
<rect x="557.30" y="310.00" width="51.40" height="22.60" fill="#d9d9d9"/>
<rect x="436.38" y="222.70" width="7.05" height="84.70" fill="#fff" stroke="#000" stroke-width="1.0"/>
<rect x="436.38" y="222.70" width="7.05" height="10.59" fill="#fff"/>
<path d="M440.66 222.70L442.56 222.70L443.43 223.46L443.43 225.12ZM436.66 222.70L438.56 222.70L443.43 226.96L443.43 228.62ZM436.38 225.95L436.38 224.29L443.43 230.46L443.43 232.12ZM440.76 233.29L436.38 229.45L436.38 227.79L442.66 233.29ZM436.76 233.29L436.38 232.95L436.38 231.29L438.66 233.29Z" fill="#000"/>
<rect x="436.38" y="222.70" width="7.05" height="10.59" fill="none" stroke="#000" stroke-width="1.0"/>
<rect x="436.38" y="233.29" width="7.05" height="74.11" fill="#7f7f7f" stroke="#000" stroke-width="1.0"/>
<rect x="448.50" y="222.70" width="7.05" height="84.70" fill="#fff" stroke="#000" stroke-width="1.0"/>
<rect x="448.50" y="222.70" width="7.05" height="21.18" fill="#fff"/>
<path d="M452.66 222.70L454.56 222.70L455.55 223.57L455.55 225.23ZM448.66 222.70L450.56 222.70L455.55 227.07L455.55 228.73ZM448.50 226.06L448.50 224.40L455.55 230.57L455.55 232.23ZM448.50 229.56L448.50 227.90L455.55 234.07L455.55 235.73ZM448.50 233.06L448.50 231.40L455.55 237.57L455.55 239.23ZM448.50 236.56L448.50 234.90L455.55 241.07L455.55 242.73ZM452.86 243.88L448.50 240.06L448.50 238.40L454.76 243.88ZM448.86 243.88L448.50 243.56L448.50 241.90L450.76 243.88Z" fill="#000"/>
<rect x="448.50" y="222.70" width="7.05" height="21.18" fill="none" stroke="#000" stroke-width="1.0"/>
<rect x="448.50" y="243.88" width="7.05" height="63.52" fill="#7f7f7f" stroke="#000" stroke-width="1.0"/>
<rect x="460.62" y="222.70" width="7.05" height="84.70" fill="#fff" stroke="#000" stroke-width="1.0"/>
<rect x="460.62" y="222.70" width="7.05" height="42.35" fill="#fff"/>
<path d="M464.66 222.70L466.56 222.70L467.68 223.68L467.68 225.34ZM460.66 222.70L462.56 222.70L467.68 227.18L467.68 228.84ZM460.62 226.17L460.62 224.51L467.68 230.68L467.68 232.34ZM460.62 229.67L460.62 228.01L467.68 234.18L467.68 235.84ZM460.62 233.17L460.62 231.51L467.68 237.68L467.68 239.34ZM460.62 236.67L460.62 235.01L467.68 241.18L467.68 242.84ZM460.62 240.17L460.62 238.51L467.68 244.68L467.68 246.34ZM460.62 243.67L460.62 242.01L467.68 248.18L467.68 249.84ZM460.62 247.17L460.62 245.51L467.68 251.68L467.68 253.34ZM460.62 250.67L460.62 249.01L467.68 255.18L467.68 256.84ZM460.62 254.17L460.62 252.51L467.68 258.68L467.68 260.34ZM460.62 257.67L460.62 256.01L467.68 262.18L467.68 263.84ZM465.06 265.05L460.62 261.17L460.62 259.51L466.96 265.05ZM461.06 265.05L460.62 264.67L460.62 263.01L462.96 265.05Z" fill="#000"/>
<rect x="460.62" y="222.70" width="7.05" height="42.35" fill="none" stroke="#000" stroke-width="1.0"/>
<rect x="460.62" y="265.05" width="7.05" height="42.35" fill="#7f7f7f" stroke="#000" stroke-width="1.0"/>
<rect x="472.75" y="222.70" width="7.05" height="84.70" fill="#fff" stroke="#000" stroke-width="1.0"/>
<rect x="472.75" y="233.29" width="7.05" height="52.94" fill="#fff"/>
<path d="M476.76 233.29L478.66 233.29L479.80 234.29L479.80 235.95ZM472.76 233.29L474.66 233.29L479.80 237.79L479.80 239.45ZM472.75 236.78L472.75 235.12L479.80 241.29L479.80 242.95ZM472.75 240.28L472.75 238.62L479.80 244.79L479.80 246.45ZM472.75 243.78L472.75 242.12L479.80 248.29L479.80 249.95ZM472.75 247.28L472.75 245.62L479.80 251.79L479.80 253.45ZM472.75 250.78L472.75 249.12L479.80 255.29L479.80 256.95ZM472.75 254.28L472.75 252.62L479.80 258.79L479.80 260.45ZM472.75 257.78L472.75 256.12L479.80 262.29L479.80 263.95ZM472.75 261.28L472.75 259.62L479.80 265.79L479.80 267.45ZM472.75 264.78L472.75 263.12L479.80 269.29L479.80 270.95ZM472.75 268.28L472.75 266.62L479.80 272.79L479.80 274.45ZM472.75 271.78L472.75 270.12L479.80 276.29L479.80 277.95ZM472.75 275.28L472.75 273.62L479.80 279.79L479.80 281.45ZM472.75 278.78L472.75 277.12L479.80 283.29L479.80 284.95ZM477.26 286.22L472.75 282.28L472.75 280.62L479.16 286.22ZM473.26 286.22L472.75 285.78L472.75 284.12L475.16 286.22Z" fill="#000"/>
<rect x="472.75" y="233.29" width="7.05" height="52.94" fill="none" stroke="#000" stroke-width="1.0"/>
<rect x="472.75" y="286.22" width="7.05" height="21.18" fill="#7f7f7f" stroke="#000" stroke-width="1.0"/>
<rect x="484.88" y="222.70" width="7.05" height="84.70" fill="#fff" stroke="#000" stroke-width="1.0"/>
<rect x="484.88" y="243.88" width="7.05" height="52.94" fill="#fff"/>
<path d="M488.86 243.88L490.76 243.88L491.93 244.90L491.93 246.56ZM484.88 243.89L484.88 243.88L486.76 243.88L491.93 248.40L491.93 250.06ZM484.88 247.39L484.88 245.73L491.93 251.90L491.93 253.56ZM484.88 250.89L484.88 249.23L491.93 255.40L491.93 257.06ZM484.88 254.39L484.88 252.73L491.93 258.90L491.93 260.56ZM484.88 257.89L484.88 256.23L491.93 262.40L491.93 264.06ZM484.88 261.39L484.88 259.73L491.93 265.90L491.93 267.56ZM484.88 264.89L484.88 263.23L491.93 269.40L491.93 271.06ZM484.88 268.39L484.88 266.73L491.93 272.90L491.93 274.56ZM484.88 271.89L484.88 270.23L491.93 276.40L491.93 278.06ZM484.88 275.39L484.88 273.73L491.93 279.90L491.93 281.56ZM484.88 278.89L484.88 277.23L491.93 283.40L491.93 285.06ZM484.88 282.39L484.88 280.73L491.93 286.90L491.93 288.56ZM484.88 285.89L484.88 284.23L491.93 290.40L491.93 292.06ZM484.88 289.39L484.88 287.73L491.93 293.90L491.93 295.56ZM489.36 296.81L484.88 292.89L484.88 291.23L491.26 296.81ZM485.36 296.81L484.88 296.39L484.88 294.73L487.26 296.81Z" fill="#000"/>
<rect x="484.88" y="243.88" width="7.05" height="52.94" fill="none" stroke="#000" stroke-width="1.0"/>
<rect x="484.88" y="296.81" width="7.05" height="10.59" fill="#7f7f7f" stroke="#000" stroke-width="1.0"/>
<rect x="497.00" y="222.70" width="7.05" height="84.70" fill="#fff" stroke="#000" stroke-width="1.0"/>
<rect x="497.00" y="233.29" width="7.05" height="63.53" fill="#fff"/>
<path d="M500.76 233.29L502.66 233.29L504.05 234.51L504.05 236.17ZM497.00 233.50L497.00 233.29L498.66 233.29L504.05 238.01L504.05 239.67ZM497.00 237.00L497.00 235.34L504.05 241.51L504.05 243.17ZM497.00 240.50L497.00 238.84L504.05 245.01L504.05 246.67ZM497.00 244.00L497.00 242.34L504.05 248.51L504.05 250.17ZM497.00 247.50L497.00 245.84L504.05 252.01L504.05 253.67ZM497.00 251.00L497.00 249.34L504.05 255.51L504.05 257.17ZM497.00 254.50L497.00 252.84L504.05 259.01L504.05 260.67ZM497.00 258.00L497.00 256.34L504.05 262.51L504.05 264.17ZM497.00 261.50L497.00 259.84L504.05 266.01L504.05 267.67ZM497.00 265.00L497.00 263.34L504.05 269.51L504.05 271.17ZM497.00 268.50L497.00 266.84L504.05 273.01L504.05 274.67ZM497.00 272.00L497.00 270.34L504.05 276.51L504.05 278.17ZM497.00 275.50L497.00 273.84L504.05 280.01L504.05 281.67ZM497.00 279.00L497.00 277.34L504.05 283.51L504.05 285.17ZM497.00 282.50L497.00 280.84L504.05 287.01L504.05 288.67ZM497.00 286.00L497.00 284.34L504.05 290.51L504.05 292.17ZM497.00 289.50L497.00 287.84L504.05 294.01L504.05 295.67ZM501.36 296.81L497.00 293.00L497.00 291.34L503.26 296.81ZM497.36 296.81L497.00 296.50L497.00 294.84L499.26 296.81Z" fill="#000"/>
<rect x="497.00" y="233.29" width="7.05" height="63.53" fill="none" stroke="#000" stroke-width="1.0"/>
<rect x="497.00" y="296.81" width="7.05" height="10.59" fill="#7f7f7f" stroke="#000" stroke-width="1.0"/>
<rect x="509.12" y="222.70" width="7.05" height="84.70" fill="#fff" stroke="#000" stroke-width="1.0"/>
<rect x="509.12" y="254.46" width="7.05" height="52.94" fill="#fff"/>
<path d="M512.96 254.46L514.86 254.46L516.17 255.62L516.17 257.28ZM509.12 254.61L509.12 254.46L510.86 254.46L516.17 259.12L516.17 260.78ZM509.12 258.11L509.12 256.45L516.17 262.62L516.17 264.28ZM509.12 261.61L509.12 259.95L516.17 266.12L516.17 267.78ZM509.12 265.11L509.12 263.45L516.17 269.62L516.17 271.28ZM509.12 268.61L509.12 266.95L516.17 273.12L516.17 274.78ZM509.12 272.11L509.12 270.45L516.17 276.62L516.17 278.28ZM509.12 275.61L509.12 273.95L516.17 280.12L516.17 281.78ZM509.12 279.11L509.12 277.45L516.17 283.62L516.17 285.28ZM509.12 282.61L509.12 280.95L516.17 287.12L516.17 288.78ZM509.12 286.11L509.12 284.45L516.17 290.62L516.17 292.28ZM509.12 289.61L509.12 287.95L516.17 294.12L516.17 295.78ZM509.12 293.11L509.12 291.45L516.17 297.62L516.17 299.28ZM509.12 296.61L509.12 294.95L516.17 301.12L516.17 302.78ZM509.12 300.11L509.12 298.45L516.17 304.62L516.17 306.28ZM513.46 307.40L509.12 303.61L509.12 301.95L515.36 307.40ZM509.46 307.40L509.12 307.11L509.12 305.45L511.36 307.40Z" fill="#000"/>
<rect x="509.12" y="254.46" width="7.05" height="52.94" fill="none" stroke="#000" stroke-width="1.0"/>
<rect x="521.25" y="222.70" width="7.05" height="84.70" fill="#fff" stroke="#000" stroke-width="1.0"/>
<rect x="521.25" y="265.05" width="7.05" height="42.35" fill="#fff"/>
<path d="M525.06 265.05L526.96 265.05L528.30 266.23L528.30 267.89ZM521.25 265.22L521.25 265.05L522.96 265.05L528.30 269.73L528.30 271.39ZM521.25 268.72L521.25 267.06L528.30 273.23L528.30 274.89ZM521.25 272.22L521.25 270.56L528.30 276.73L528.30 278.39ZM521.25 275.72L521.25 274.06L528.30 280.23L528.30 281.89ZM521.25 279.22L521.25 277.56L528.30 283.73L528.30 285.39ZM521.25 282.72L521.25 281.06L528.30 287.23L528.30 288.89ZM521.25 286.22L521.25 284.56L528.30 290.73L528.30 292.39ZM521.25 289.72L521.25 288.06L528.30 294.23L528.30 295.89ZM521.25 293.22L521.25 291.56L528.30 297.73L528.30 299.39ZM521.25 296.72L521.25 295.06L528.30 301.23L528.30 302.89ZM521.25 300.22L521.25 298.56L528.30 304.73L528.30 306.39ZM525.46 307.40L521.25 303.72L521.25 302.06L527.36 307.40ZM521.46 307.40L521.25 307.22L521.25 305.56L523.36 307.40Z" fill="#000"/>
<rect x="521.25" y="265.05" width="7.05" height="42.35" fill="none" stroke="#000" stroke-width="1.0"/>
<rect x="533.38" y="222.70" width="7.05" height="84.70" fill="#fff" stroke="#000" stroke-width="1.0"/>
<rect x="533.38" y="286.22" width="7.05" height="21.18" fill="#fff"/>
<path d="M537.26 286.22L539.16 286.22L540.42 287.34L540.42 289.00ZM533.38 286.33L533.38 286.22L535.16 286.22L540.42 290.84L540.42 292.50ZM533.38 289.83L533.38 288.17L540.42 294.34L540.42 296.00ZM533.38 293.33L533.38 291.67L540.42 297.84L540.42 299.50ZM533.38 296.83L533.38 295.17L540.42 301.34L540.42 303.00ZM533.38 300.33L533.38 298.67L540.42 304.84L540.42 306.50ZM537.46 307.40L533.38 303.83L533.38 302.17L539.36 307.40ZM533.46 307.40L533.38 307.33L533.38 305.67L535.36 307.40Z" fill="#000"/>
<rect x="533.38" y="286.22" width="7.05" height="21.18" fill="none" stroke="#000" stroke-width="1.0"/>
<rect x="545.50" y="222.70" width="7.05" height="84.70" fill="#fff" stroke="#000" stroke-width="1.0"/>
<rect x="545.50" y="296.81" width="7.05" height="10.59" fill="#fff"/>
<path d="M549.36 296.81L551.26 296.81L552.55 297.94L552.55 299.61ZM545.50 296.94L545.50 296.81L547.26 296.81L552.55 301.44L552.55 303.11ZM545.50 300.44L545.50 298.78L552.55 304.94L552.55 306.61ZM549.46 307.40L545.50 303.94L545.50 302.28L551.36 307.40ZM545.50 307.40L545.50 305.78L547.36 307.40Z" fill="#000"/>
<rect x="545.50" y="296.81" width="7.05" height="10.59" fill="none" stroke="#000" stroke-width="1.0"/>
<rect x="569.75" y="222.70" width="7.05" height="84.70" fill="#fff" stroke="#000" stroke-width="1.0"/>
<rect x="569.75" y="233.29" width="7.05" height="74.11" fill="#fff"/>
<path d="M576.80 233.33L576.76 233.29L576.80 233.29ZM572.76 233.29L574.66 233.29L576.80 235.16L576.80 236.83ZM569.75 234.16L569.75 233.29L570.66 233.29L576.80 238.66L576.80 240.33ZM569.75 237.66L569.75 236.00L576.80 242.16L576.80 243.83ZM569.75 241.16L569.75 239.50L576.80 245.66L576.80 247.32ZM569.75 244.66L569.75 243.00L576.80 249.16L576.80 250.82ZM569.75 248.16L569.75 246.50L576.80 252.66L576.80 254.32ZM569.75 251.66L569.75 250.00L576.80 256.16L576.80 257.82ZM569.75 255.16L569.75 253.50L576.80 259.66L576.80 261.32ZM569.75 258.66L569.75 257.00L576.80 263.16L576.80 264.82ZM569.75 262.16L569.75 260.50L576.80 266.66L576.80 268.32ZM569.75 265.66L569.75 264.00L576.80 270.16L576.80 271.82ZM569.75 269.16L569.75 267.49L576.80 273.66L576.80 275.32ZM569.75 272.66L569.75 270.99L576.80 277.16L576.80 278.82ZM569.75 276.16L569.75 274.49L576.80 280.66L576.80 282.32ZM569.75 279.66L569.75 277.99L576.80 284.16L576.80 285.82ZM569.75 283.16L569.75 281.49L576.80 287.66L576.80 289.32ZM569.75 286.66L569.75 284.99L576.80 291.16L576.80 292.82ZM569.75 290.16L569.75 288.49L576.80 294.66L576.80 296.32ZM569.75 293.66L569.75 291.99L576.80 298.16L576.80 299.82ZM569.75 297.16L569.75 295.49L576.80 301.66L576.80 303.32ZM569.75 300.66L569.75 298.99L576.80 305.16L576.80 306.82ZM573.46 307.40L569.75 304.16L569.75 302.49L575.36 307.40ZM569.75 307.40L569.75 305.99L571.36 307.40Z" fill="#000"/>
<rect x="569.75" y="233.29" width="7.05" height="74.11" fill="none" stroke="#000" stroke-width="1.0"/>
<rect x="581.88" y="222.70" width="7.05" height="84.70" fill="#fff" stroke="#000" stroke-width="1.0"/>
<rect x="581.88" y="265.05" width="7.05" height="42.35" fill="#fff"/>
<path d="M585.06 265.05L586.96 265.05L588.92 266.77L588.92 268.43ZM581.88 265.77L581.88 265.05L582.96 265.05L588.92 270.27L588.92 271.93ZM581.88 269.27L581.88 267.60L588.92 273.77L588.92 275.43ZM581.88 272.77L581.88 271.10L588.92 277.27L588.92 278.93ZM581.88 276.27L581.88 274.60L588.92 280.77L588.92 282.43ZM581.88 279.77L581.88 278.10L588.92 284.27L588.92 285.93ZM581.88 283.27L581.88 281.60L588.92 287.77L588.92 289.43ZM581.88 286.77L581.88 285.10L588.92 291.27L588.92 292.93ZM581.88 290.27L581.88 288.60L588.92 294.77L588.92 296.43ZM581.88 293.77L581.88 292.10L588.92 298.27L588.92 299.93ZM581.88 297.26L581.88 295.60L588.92 301.77L588.92 303.43ZM581.88 300.76L581.88 299.10L588.92 305.27L588.92 306.93ZM585.46 307.40L581.88 304.26L581.88 302.60L587.36 307.40ZM581.88 307.40L581.88 306.10L583.36 307.40Z" fill="#000"/>
<rect x="581.88" y="265.05" width="7.05" height="42.35" fill="none" stroke="#000" stroke-width="1.0"/>
<rect x="594.00" y="222.70" width="7.05" height="84.70" fill="#fff" stroke="#000" stroke-width="1.0"/>
<rect x="594.00" y="286.22" width="7.05" height="21.18" fill="#fff"/>
<path d="M597.26 286.22L599.16 286.22L601.05 287.88L601.05 289.54ZM594.00 286.87L594.00 286.22L595.16 286.22L601.05 291.38L601.05 293.04ZM594.00 290.37L594.00 288.71L601.05 294.88L601.05 296.54ZM594.00 293.87L594.00 292.21L601.05 298.38L601.05 300.04ZM594.00 297.37L594.00 295.71L601.05 301.88L601.05 303.54ZM594.00 300.87L594.00 299.21L601.05 305.38L601.05 307.04ZM597.46 307.40L594.00 304.37L594.00 302.71L599.36 307.40ZM594.00 307.40L594.00 306.21L595.36 307.40Z" fill="#000"/>
<rect x="594.00" y="286.22" width="7.05" height="21.18" fill="none" stroke="#000" stroke-width="1.0"/>
<line x1="431.20" y1="222.30" x2="431.20" y2="307.90" stroke="#333" stroke-width="0.7"/>
<line x1="428.80" y1="307.40" x2="605.80" y2="307.40" stroke="#000" stroke-width="1.1"/>
<line x1="428.80" y1="307.40" x2="431.20" y2="307.40" stroke="#000" stroke-width="0.9"/>
<text class="fs b" x="428.6" y="309.5" font-size="6.3" text-anchor="end" textLength="3.5" lengthAdjust="spacingAndGlyphs">0</text>
<line x1="428.80" y1="290.46" x2="431.20" y2="290.46" stroke="#000" stroke-width="0.9"/>
<text class="fs b" x="428.6" y="292.6" font-size="6.3" text-anchor="end" textLength="7.1" lengthAdjust="spacingAndGlyphs">20</text>
<line x1="428.80" y1="273.52" x2="431.20" y2="273.52" stroke="#000" stroke-width="0.9"/>
<text class="fs b" x="428.6" y="275.7" font-size="6.3" text-anchor="end" textLength="7.1" lengthAdjust="spacingAndGlyphs">40</text>
<line x1="428.80" y1="256.58" x2="431.20" y2="256.58" stroke="#000" stroke-width="0.9"/>
<text class="fs b" x="428.6" y="258.7" font-size="6.3" text-anchor="end" textLength="7.1" lengthAdjust="spacingAndGlyphs">60</text>
<line x1="428.80" y1="239.64" x2="431.20" y2="239.64" stroke="#000" stroke-width="0.9"/>
<text class="fs b" x="428.6" y="241.8" font-size="6.3" text-anchor="end" textLength="7.1" lengthAdjust="spacingAndGlyphs">80</text>
<line x1="428.80" y1="222.70" x2="431.20" y2="222.70" stroke="#000" stroke-width="0.9"/>
<text class="fs b" x="428.6" y="224.8" font-size="6.3" text-anchor="end" textLength="10.6" lengthAdjust="spacingAndGlyphs">100</text>
<line x1="440.10" y1="307.40" x2="440.10" y2="310.30" stroke="#111" stroke-width="0.8"/>
<text class="fs b" x="438.8" y="316.0" font-size="5.8" text-anchor="middle" stroke="#000" stroke-width="0.12">1</text>
<line x1="452.22" y1="307.40" x2="452.22" y2="310.30" stroke="#111" stroke-width="0.8"/>
<text class="fs b" x="450.9" y="316.0" font-size="5.8" text-anchor="middle" stroke="#000" stroke-width="0.12">2</text>
<line x1="464.35" y1="307.40" x2="464.35" y2="310.30" stroke="#111" stroke-width="0.8"/>
<text class="fs b" x="463.0" y="316.0" font-size="5.8" text-anchor="middle" stroke="#000" stroke-width="0.12">3</text>
<line x1="476.47" y1="307.40" x2="476.47" y2="310.30" stroke="#111" stroke-width="0.8"/>
<text class="fs b" x="475.2" y="316.0" font-size="5.8" text-anchor="middle" stroke="#000" stroke-width="0.12">4</text>
<line x1="488.60" y1="307.40" x2="488.60" y2="310.30" stroke="#111" stroke-width="0.8"/>
<text class="fs b" x="487.3" y="316.0" font-size="5.8" text-anchor="middle" stroke="#000" stroke-width="0.12">5</text>
<line x1="500.72" y1="307.40" x2="500.72" y2="310.30" stroke="#111" stroke-width="0.8"/>
<text class="fs b" x="499.4" y="316.0" font-size="5.8" text-anchor="middle" stroke="#000" stroke-width="0.12">6</text>
<line x1="512.85" y1="307.40" x2="512.85" y2="310.30" stroke="#111" stroke-width="0.8"/>
<text class="fs b" x="511.5" y="316.0" font-size="5.8" text-anchor="middle" stroke="#000" stroke-width="0.12">7</text>
<line x1="524.98" y1="307.40" x2="524.98" y2="310.30" stroke="#111" stroke-width="0.8"/>
<text class="fs b" x="523.7" y="316.0" font-size="5.8" text-anchor="middle" stroke="#000" stroke-width="0.12">8</text>
<line x1="537.10" y1="307.40" x2="537.10" y2="310.30" stroke="#111" stroke-width="0.8"/>
<text class="fs b" x="535.8" y="316.0" font-size="5.8" text-anchor="middle" stroke="#000" stroke-width="0.12">9</text>
<line x1="549.23" y1="307.40" x2="549.23" y2="310.30" stroke="#111" stroke-width="0.8"/>
<text class="fs b" x="547.9" y="316.0" font-size="5.8" text-anchor="middle" stroke="#000" stroke-width="0.12">10</text>
<line x1="561.35" y1="307.40" x2="561.35" y2="310.30" stroke="#111" stroke-width="0.8"/>
<line x1="573.48" y1="307.40" x2="573.48" y2="310.30" stroke="#111" stroke-width="0.8"/>
<text class="fs b" x="572.2" y="316.0" font-size="5.8" text-anchor="middle" stroke="#000" stroke-width="0.12">1</text>
<line x1="585.60" y1="307.40" x2="585.60" y2="310.30" stroke="#111" stroke-width="0.8"/>
<text class="fs b" x="584.3" y="316.0" font-size="5.8" text-anchor="middle" stroke="#000" stroke-width="0.12">2</text>
<line x1="597.73" y1="307.40" x2="597.73" y2="310.30" stroke="#111" stroke-width="0.8"/>
<text class="fs b" x="596.4" y="316.0" font-size="5.8" text-anchor="middle" stroke="#000" stroke-width="0.12">3</text>
<text class="fs b" x="498.0" y="323.9" font-size="5.7" text-anchor="middle" textLength="50.3" lengthAdjust="spacingAndGlyphs" stroke="#000" stroke-width="0.12">Acquisition Learning</text>
<text class="fs b" x="498.0" y="329.5" font-size="5.7" text-anchor="middle" textLength="18.3" lengthAdjust="spacingAndGlyphs" stroke="#000" stroke-width="0.12">Session</text>
<text class="fs b" x="585.8" y="323.0" font-size="5.7" text-anchor="middle" textLength="42.8" lengthAdjust="spacingAndGlyphs" stroke="#000" stroke-width="0.12">Reversal Learning</text>
<text class="fs b" x="585.8" y="328.6" font-size="5.7" text-anchor="middle" textLength="18.3" lengthAdjust="spacingAndGlyphs" stroke="#000" stroke-width="0.12">Session</text>
<text class="fs" x="511.1" y="195.4" font-size="11.7" text-anchor="middle" textLength="61.6" lengthAdjust="spacingAndGlyphs" stroke="#000" stroke-width="0.2" xml:space="preserve">Male Control</text>
<rect x="463.00" y="211.50" width="7.00" height="3.5" fill="#000"/>
<rect x="464.00" y="213.00" width="5.00" height="1.0" fill="#fff"/>
<text class="fn" x="474.0" y="215.3" font-size="5.9" textLength="16.7" lengthAdjust="spacingAndGlyphs" stroke="#000" stroke-width="0.2">Spatial</text>
<rect x="500.20" y="211.50" width="7.70" height="3.5" fill="#000"/>
<rect x="504.25" y="213.00" width="1.5" height="1.0" fill="#fff"/>
<rect x="501.20" y="213.05" width="1.7" height="0.9" fill="#8a8a8a"/>
<text class="fn" x="511.9" y="215.3" font-size="5.9" textLength="13.9" lengthAdjust="spacingAndGlyphs" stroke="#000" stroke-width="0.2">Serial</text>
<rect x="538.00" y="211.50" width="7.00" height="3.5" fill="#000"/>
<rect x="539.00" y="213.00" width="5.00" height="1.0" fill="#7f7f7f"/>
<text class="fn" x="549.3" y="215.3" font-size="5.9" textLength="20.1" lengthAdjust="spacingAndGlyphs" stroke="#000" stroke-width="0.2">Random</text>
<text class="fs b" font-size="7.4" text-anchor="middle" textLength="38.7" lengthAdjust="spacingAndGlyphs" transform="translate(415.0,265.0) rotate(-90)">Strategy (%)</text>
<rect x="52.25" y="488.00" width="122.30" height="22.60" fill="#d9d9d9"/>
<rect x="177.45" y="488.00" width="51.40" height="22.60" fill="#d9d9d9"/>
<rect x="56.52" y="400.70" width="7.05" height="84.70" fill="#fff" stroke="#000" stroke-width="1.0"/>
<rect x="56.52" y="400.70" width="7.05" height="10.59" fill="#fff"/>
<path d="M60.09 400.70L61.99 400.70L63.57 402.09L63.57 403.75ZM56.52 401.08L56.52 400.70L57.99 400.70L63.57 405.59L63.57 407.25ZM56.52 404.58L56.52 402.92L63.57 409.09L63.57 410.75ZM60.19 411.29L56.52 408.08L56.52 406.42L62.09 411.29ZM56.52 411.29L56.52 409.92L58.09 411.29Z" fill="#000"/>
<rect x="56.52" y="400.70" width="7.05" height="10.59" fill="none" stroke="#000" stroke-width="1.0"/>
<rect x="56.52" y="411.29" width="7.05" height="74.11" fill="#7f7f7f" stroke="#000" stroke-width="1.0"/>
<rect x="68.65" y="400.70" width="7.05" height="84.70" fill="#fff" stroke="#000" stroke-width="1.0"/>
<rect x="68.65" y="400.70" width="7.05" height="21.18" fill="#fff"/>
<path d="M72.09 400.70L73.99 400.70L75.70 402.20L75.70 403.86ZM68.65 401.19L68.65 400.70L69.99 400.70L75.70 405.70L75.70 407.36ZM68.65 404.69L68.65 403.03L75.70 409.20L75.70 410.86ZM68.65 408.19L68.65 406.53L75.70 412.70L75.70 414.36ZM68.65 411.69L68.65 410.03L75.70 416.20L75.70 417.86ZM68.65 415.19L68.65 413.53L75.70 419.70L75.70 421.36ZM72.29 421.88L68.65 418.69L68.65 417.03L74.19 421.88ZM68.65 421.88L68.65 420.53L70.19 421.88Z" fill="#000"/>
<rect x="68.65" y="400.70" width="7.05" height="21.18" fill="none" stroke="#000" stroke-width="1.0"/>
<rect x="68.65" y="421.88" width="7.05" height="63.52" fill="#7f7f7f" stroke="#000" stroke-width="1.0"/>
<rect x="80.77" y="400.70" width="7.05" height="84.70" fill="#fff" stroke="#000" stroke-width="1.0"/>
<rect x="80.77" y="400.70" width="7.05" height="42.35" fill="#fff"/>
<path d="M84.09 400.70L85.99 400.70L87.82 402.31L87.82 403.97ZM80.77 401.30L80.77 400.70L81.99 400.70L87.82 405.81L87.82 407.47ZM80.77 404.80L80.77 403.14L87.82 409.31L87.82 410.97ZM80.77 408.30L80.77 406.64L87.82 412.81L87.82 414.47ZM80.77 411.80L80.77 410.14L87.82 416.31L87.82 417.97ZM80.77 415.30L80.77 413.64L87.82 419.81L87.82 421.47ZM80.77 418.80L80.77 417.14L87.82 423.31L87.82 424.97ZM80.77 422.30L80.77 420.64L87.82 426.81L87.82 428.47ZM80.77 425.80L80.77 424.14L87.82 430.31L87.82 431.97ZM80.77 429.30L80.77 427.64L87.82 433.81L87.82 435.47ZM80.77 432.80L80.77 431.14L87.82 437.31L87.82 438.97ZM80.77 436.30L80.77 434.64L87.82 440.81L87.82 442.47ZM84.49 443.05L80.77 439.80L80.77 438.14L86.39 443.05ZM80.77 443.05L80.77 441.64L82.39 443.05Z" fill="#000"/>
<rect x="80.77" y="400.70" width="7.05" height="42.35" fill="none" stroke="#000" stroke-width="1.0"/>
<rect x="80.77" y="443.05" width="7.05" height="42.35" fill="#7f7f7f" stroke="#000" stroke-width="1.0"/>
<rect x="92.90" y="400.70" width="7.05" height="84.70" fill="#fff" stroke="#000" stroke-width="1.0"/>
<rect x="92.90" y="411.29" width="7.05" height="52.94" fill="#fff"/>
<path d="M96.19 411.29L98.09 411.29L99.95 412.92L99.95 414.58ZM92.90 411.91L92.90 411.29L94.09 411.29L99.95 416.42L99.95 418.08ZM92.90 415.41L92.90 413.75L99.95 419.92L99.95 421.58ZM92.90 418.91L92.90 417.25L99.95 423.42L99.95 425.08ZM92.90 422.41L92.90 420.75L99.95 426.92L99.95 428.58ZM92.90 425.91L92.90 424.25L99.95 430.42L99.95 432.08ZM92.90 429.41L92.90 427.75L99.95 433.92L99.95 435.58ZM92.90 432.91L92.90 431.25L99.95 437.42L99.95 439.08ZM92.90 436.41L92.90 434.75L99.95 440.92L99.95 442.58ZM92.90 439.91L92.90 438.25L99.95 444.42L99.95 446.08ZM92.90 443.41L92.90 441.75L99.95 447.92L99.95 449.58ZM92.90 446.91L92.90 445.25L99.95 451.42L99.95 453.08ZM92.90 450.41L92.90 448.75L99.95 454.92L99.95 456.58ZM92.90 453.91L92.90 452.25L99.95 458.42L99.95 460.08ZM92.90 457.41L92.90 455.75L99.95 461.92L99.95 463.58ZM96.69 464.22L92.90 460.91L92.90 459.25L98.59 464.22ZM92.90 464.22L92.90 462.75L94.59 464.22Z" fill="#000"/>
<rect x="92.90" y="411.29" width="7.05" height="52.94" fill="none" stroke="#000" stroke-width="1.0"/>
<rect x="92.90" y="464.22" width="7.05" height="21.18" fill="#7f7f7f" stroke="#000" stroke-width="1.0"/>
<rect x="105.02" y="400.70" width="7.05" height="84.70" fill="#fff" stroke="#000" stroke-width="1.0"/>
<rect x="105.02" y="421.88" width="7.05" height="52.94" fill="#fff"/>
<path d="M108.29 421.88L110.19 421.88L112.07 423.53L112.07 425.19ZM105.02 422.52L105.02 421.88L106.19 421.88L112.07 427.03L112.07 428.69ZM105.02 426.02L105.02 424.36L112.07 430.53L112.07 432.19ZM105.02 429.52L105.02 427.86L112.07 434.03L112.07 435.69ZM105.02 433.02L105.02 431.36L112.07 437.53L112.07 439.19ZM105.02 436.52L105.02 434.86L112.07 441.03L112.07 442.69ZM105.02 440.02L105.02 438.36L112.07 444.53L112.07 446.19ZM105.02 443.52L105.02 441.86L112.07 448.03L112.07 449.69ZM105.02 447.02L105.02 445.36L112.07 451.53L112.07 453.19ZM105.02 450.52L105.02 448.86L112.07 455.03L112.07 456.69ZM105.02 454.02L105.02 452.36L112.07 458.53L112.07 460.19ZM105.02 457.52L105.02 455.86L112.07 462.03L112.07 463.69ZM105.02 461.02L105.02 459.36L112.07 465.53L112.07 467.19ZM105.02 464.52L105.02 462.86L112.07 469.03L112.07 470.69ZM105.02 468.02L105.02 466.36L112.07 472.53L112.07 474.19ZM108.79 474.81L105.02 471.52L105.02 469.86L110.69 474.81ZM105.02 474.81L105.02 473.36L106.69 474.81Z" fill="#000"/>
<rect x="105.02" y="421.88" width="7.05" height="52.94" fill="none" stroke="#000" stroke-width="1.0"/>
<rect x="105.02" y="474.81" width="7.05" height="10.59" fill="#7f7f7f" stroke="#000" stroke-width="1.0"/>
<rect x="117.15" y="400.70" width="7.05" height="84.70" fill="#fff" stroke="#000" stroke-width="1.0"/>
<rect x="117.15" y="411.29" width="7.05" height="63.52" fill="#fff"/>
<path d="M124.20 411.30L124.19 411.29L124.20 411.29ZM120.19 411.29L122.09 411.29L124.20 413.14L124.20 414.80ZM117.15 412.13L117.15 411.29L118.09 411.29L124.20 416.64L124.20 418.30ZM117.15 415.63L117.15 413.97L124.20 420.14L124.20 421.80ZM117.15 419.13L117.15 417.47L124.20 423.64L124.20 425.30ZM117.15 422.63L117.15 420.97L124.20 427.14L124.20 428.80ZM117.15 426.13L117.15 424.47L124.20 430.64L124.20 432.30ZM117.15 429.63L117.15 427.97L124.20 434.14L124.20 435.80ZM117.15 433.13L117.15 431.47L124.20 437.64L124.20 439.30ZM117.15 436.63L117.15 434.97L124.20 441.14L124.20 442.80ZM117.15 440.13L117.15 438.47L124.20 444.64L124.20 446.30ZM117.15 443.63L117.15 441.97L124.20 448.14L124.20 449.80ZM117.15 447.13L117.15 445.47L124.20 451.64L124.20 453.30ZM117.15 450.63L117.15 448.97L124.20 455.14L124.20 456.80ZM117.15 454.13L117.15 452.47L124.20 458.64L124.20 460.30ZM117.15 457.63L117.15 455.97L124.20 462.14L124.20 463.80ZM117.15 461.13L117.15 459.47L124.20 465.64L124.20 467.30ZM117.15 464.63L117.15 462.97L124.20 469.14L124.20 470.80ZM117.15 468.13L117.15 466.47L124.20 472.64L124.20 474.30ZM120.79 474.81L117.15 471.63L117.15 469.97L122.69 474.81ZM117.15 474.81L117.15 473.47L118.69 474.81Z" fill="#000"/>
<rect x="117.15" y="411.29" width="7.05" height="63.52" fill="none" stroke="#000" stroke-width="1.0"/>
<rect x="117.15" y="474.81" width="7.05" height="10.59" fill="#7f7f7f" stroke="#000" stroke-width="1.0"/>
<rect x="129.27" y="400.70" width="7.05" height="84.70" fill="#fff" stroke="#000" stroke-width="1.0"/>
<rect x="129.27" y="432.46" width="7.05" height="52.94" fill="#fff"/>
<path d="M132.39 432.46L134.29 432.46L136.32 434.25L136.32 435.91ZM129.27 433.24L129.27 432.46L130.29 432.46L136.32 437.75L136.32 439.41ZM129.27 436.74L129.27 435.08L136.32 441.25L136.32 442.91ZM129.27 440.24L129.27 438.58L136.32 444.75L136.32 446.41ZM129.27 443.74L129.27 442.08L136.32 448.25L136.32 449.91ZM129.27 447.24L129.27 445.58L136.32 451.75L136.32 453.41ZM129.27 450.74L129.27 449.08L136.32 455.25L136.32 456.91ZM129.27 454.24L129.27 452.58L136.32 458.75L136.32 460.41ZM129.27 457.74L129.27 456.08L136.32 462.25L136.32 463.91ZM129.27 461.24L129.27 459.58L136.32 465.75L136.32 467.41ZM129.27 464.74L129.27 463.08L136.32 469.25L136.32 470.91ZM129.27 468.24L129.27 466.58L136.32 472.75L136.32 474.41ZM129.27 471.74L129.27 470.08L136.32 476.25L136.32 477.91ZM129.27 475.24L129.27 473.58L136.32 479.75L136.32 481.41ZM129.27 478.74L129.27 477.08L136.32 483.25L136.32 484.91ZM132.89 485.40L129.27 482.24L129.27 480.58L134.79 485.40ZM129.27 485.40L129.27 484.08L130.79 485.40Z" fill="#000"/>
<rect x="129.27" y="432.46" width="7.05" height="52.94" fill="none" stroke="#000" stroke-width="1.0"/>
<rect x="141.40" y="400.70" width="7.05" height="84.70" fill="#fff" stroke="#000" stroke-width="1.0"/>
<rect x="141.40" y="443.05" width="7.05" height="42.35" fill="#fff"/>
<path d="M144.49 443.05L146.39 443.05L148.45 444.86L148.45 446.52ZM141.40 443.85L141.40 443.05L142.39 443.05L148.45 448.36L148.45 450.02ZM141.40 447.35L141.40 445.69L148.45 451.86L148.45 453.52ZM141.40 450.85L141.40 449.19L148.45 455.36L148.45 457.02ZM141.40 454.35L141.40 452.69L148.45 458.86L148.45 460.52ZM141.40 457.85L141.40 456.19L148.45 462.36L148.45 464.02ZM141.40 461.35L141.40 459.69L148.45 465.86L148.45 467.52ZM141.40 464.85L141.40 463.19L148.45 469.36L148.45 471.02ZM141.40 468.35L141.40 466.69L148.45 472.86L148.45 474.52ZM141.40 471.85L141.40 470.19L148.45 476.36L148.45 478.02ZM141.40 475.35L141.40 473.69L148.45 479.86L148.45 481.52ZM141.40 478.85L141.40 477.19L148.45 483.36L148.45 485.02ZM144.89 485.40L141.40 482.35L141.40 480.69L146.79 485.40ZM141.40 485.40L141.40 484.19L142.79 485.40Z" fill="#000"/>
<rect x="141.40" y="443.05" width="7.05" height="42.35" fill="none" stroke="#000" stroke-width="1.0"/>
<rect x="153.52" y="400.70" width="7.05" height="84.70" fill="#fff" stroke="#000" stroke-width="1.0"/>
<rect x="153.52" y="464.22" width="7.05" height="21.18" fill="#fff"/>
<path d="M156.69 464.22L158.59 464.22L160.57 465.96L160.57 467.63ZM153.52 464.96L153.52 464.22L154.59 464.22L160.57 469.46L160.57 471.13ZM153.52 468.46L153.52 466.80L160.57 472.96L160.57 474.63ZM153.52 471.96L153.52 470.30L160.57 476.46L160.57 478.13ZM153.52 475.46L153.52 473.80L160.57 479.96L160.57 481.63ZM153.52 478.96L153.52 477.30L160.57 483.46L160.57 485.13ZM156.89 485.40L153.52 482.46L153.52 480.80L158.79 485.40ZM153.52 485.40L153.52 484.30L154.79 485.40Z" fill="#000"/>
<rect x="153.52" y="464.22" width="7.05" height="21.18" fill="none" stroke="#000" stroke-width="1.0"/>
<rect x="165.65" y="400.70" width="7.05" height="84.70" fill="#fff" stroke="#000" stroke-width="1.0"/>
<rect x="165.65" y="474.81" width="7.05" height="10.59" fill="#fff"/>
<path d="M168.79 474.81L170.69 474.81L172.70 476.57L172.70 478.23ZM165.65 475.57L165.65 474.81L166.69 474.81L172.70 480.07L172.70 481.73ZM165.65 479.07L165.65 477.41L172.70 483.57L172.70 485.23ZM168.89 485.40L165.65 482.57L165.65 480.91L170.79 485.40ZM165.65 485.40L165.65 484.41L166.79 485.40Z" fill="#000"/>
<rect x="165.65" y="474.81" width="7.05" height="10.59" fill="none" stroke="#000" stroke-width="1.0"/>
<rect x="189.90" y="400.70" width="7.05" height="84.70" fill="#fff" stroke="#000" stroke-width="1.0"/>
<rect x="189.90" y="411.29" width="7.05" height="74.11" fill="#fff"/>
<path d="M196.95 411.95L196.19 411.29L196.95 411.29ZM192.19 411.29L194.09 411.29L196.95 413.79L196.95 415.45ZM189.90 412.79L189.90 411.29L190.09 411.29L196.95 417.29L196.95 418.95ZM189.90 416.29L189.90 414.62L196.95 420.79L196.95 422.45ZM189.90 419.79L189.90 418.12L196.95 424.29L196.95 425.95ZM189.90 423.29L189.90 421.62L196.95 427.79L196.95 429.45ZM189.90 426.79L189.90 425.12L196.95 431.29L196.95 432.95ZM189.90 430.29L189.90 428.62L196.95 434.79L196.95 436.45ZM189.90 433.79L189.90 432.12L196.95 438.29L196.95 439.95ZM189.90 437.29L189.90 435.62L196.95 441.79L196.95 443.45ZM189.90 440.79L189.90 439.12L196.95 445.29L196.95 446.95ZM189.90 444.29L189.90 442.62L196.95 448.79L196.95 450.45ZM189.90 447.79L189.90 446.12L196.95 452.29L196.95 453.95ZM189.90 451.29L189.90 449.62L196.95 455.79L196.95 457.45ZM189.90 454.79L189.90 453.12L196.95 459.29L196.95 460.95ZM189.90 458.29L189.90 456.62L196.95 462.79L196.95 464.45ZM189.90 461.78L189.90 460.12L196.95 466.29L196.95 467.95ZM189.90 465.28L189.90 463.62L196.95 469.79L196.95 471.45ZM189.90 468.78L189.90 467.12L196.95 473.29L196.95 474.95ZM189.90 472.28L189.90 470.62L196.95 476.79L196.95 478.45ZM189.90 475.78L189.90 474.12L196.95 480.29L196.95 481.95ZM196.89 485.40L189.90 479.28L189.90 477.62L196.95 483.79L196.95 485.40ZM192.89 485.40L189.90 482.78L189.90 481.12L194.79 485.40ZM189.90 485.40L189.90 484.62L190.79 485.40Z" fill="#000"/>
<rect x="189.90" y="411.29" width="7.05" height="74.11" fill="none" stroke="#000" stroke-width="1.0"/>
<rect x="202.02" y="400.70" width="7.05" height="84.70" fill="#fff" stroke="#000" stroke-width="1.0"/>
<rect x="202.02" y="443.05" width="7.05" height="42.35" fill="#fff"/>
<path d="M209.07 443.56L208.49 443.05L209.07 443.05ZM204.49 443.05L206.39 443.05L209.07 445.40L209.07 447.06ZM202.02 444.39L202.02 443.05L202.39 443.05L209.07 448.90L209.07 450.56ZM202.02 447.89L202.02 446.23L209.07 452.40L209.07 454.06ZM202.02 451.39L202.02 449.73L209.07 455.90L209.07 457.56ZM202.02 454.89L202.02 453.23L209.07 459.40L209.07 461.06ZM202.02 458.39L202.02 456.73L209.07 462.90L209.07 464.56ZM202.02 461.89L202.02 460.23L209.07 466.40L209.07 468.06ZM202.02 465.39L202.02 463.73L209.07 469.90L209.07 471.56ZM202.02 468.89L202.02 467.23L209.07 473.40L209.07 475.06ZM202.02 472.39L202.02 470.73L209.07 476.90L209.07 478.56ZM202.02 475.89L202.02 474.23L209.07 480.40L209.07 482.06ZM208.89 485.40L202.02 479.39L202.02 477.73L209.07 483.90L209.07 485.40ZM204.89 485.40L202.02 482.89L202.02 481.23L206.79 485.40ZM202.02 485.40L202.02 484.73L202.79 485.40Z" fill="#000"/>
<rect x="202.02" y="443.05" width="7.05" height="42.35" fill="none" stroke="#000" stroke-width="1.0"/>
<rect x="214.15" y="400.70" width="7.05" height="84.70" fill="#fff" stroke="#000" stroke-width="1.0"/>
<rect x="214.15" y="464.22" width="7.05" height="21.18" fill="#fff"/>
<path d="M221.20 464.67L220.69 464.22L221.20 464.22ZM216.69 464.22L218.59 464.22L221.20 466.51L221.20 468.17ZM214.15 465.50L214.15 464.22L214.59 464.22L221.20 470.01L221.20 471.67ZM214.15 469.00L214.15 467.34L221.20 473.51L221.20 475.17ZM214.15 472.50L214.15 470.84L221.20 477.01L221.20 478.67ZM214.15 476.00L214.15 474.34L221.20 480.51L221.20 482.17ZM220.89 485.40L214.15 479.50L214.15 477.84L221.20 484.01L221.20 485.40ZM216.89 485.40L214.15 483.00L214.15 481.34L218.79 485.40ZM214.15 485.40L214.15 484.84L214.79 485.40Z" fill="#000"/>
<rect x="214.15" y="464.22" width="7.05" height="21.18" fill="none" stroke="#000" stroke-width="1.0"/>
<line x1="51.35" y1="400.30" x2="51.35" y2="485.90" stroke="#333" stroke-width="0.7"/>
<line x1="48.95" y1="485.40" x2="225.95" y2="485.40" stroke="#000" stroke-width="1.1"/>
<line x1="48.95" y1="485.40" x2="51.35" y2="485.40" stroke="#000" stroke-width="0.9"/>
<text class="fs b" x="48.7" y="487.5" font-size="6.3" text-anchor="end" textLength="3.5" lengthAdjust="spacingAndGlyphs">0</text>
<line x1="48.95" y1="468.46" x2="51.35" y2="468.46" stroke="#000" stroke-width="0.9"/>
<text class="fs b" x="48.7" y="470.6" font-size="6.3" text-anchor="end" textLength="7.1" lengthAdjust="spacingAndGlyphs">20</text>
<line x1="48.95" y1="451.52" x2="51.35" y2="451.52" stroke="#000" stroke-width="0.9"/>
<text class="fs b" x="48.7" y="453.7" font-size="6.3" text-anchor="end" textLength="7.1" lengthAdjust="spacingAndGlyphs">40</text>
<line x1="48.95" y1="434.58" x2="51.35" y2="434.58" stroke="#000" stroke-width="0.9"/>
<text class="fs b" x="48.7" y="436.7" font-size="6.3" text-anchor="end" textLength="7.1" lengthAdjust="spacingAndGlyphs">60</text>
<line x1="48.95" y1="417.64" x2="51.35" y2="417.64" stroke="#000" stroke-width="0.9"/>
<text class="fs b" x="48.7" y="419.8" font-size="6.3" text-anchor="end" textLength="7.1" lengthAdjust="spacingAndGlyphs">80</text>
<line x1="48.95" y1="400.70" x2="51.35" y2="400.70" stroke="#000" stroke-width="0.9"/>
<text class="fs b" x="48.7" y="402.8" font-size="6.3" text-anchor="end" textLength="10.6" lengthAdjust="spacingAndGlyphs">100</text>
<line x1="60.25" y1="485.40" x2="60.25" y2="488.30" stroke="#111" stroke-width="0.8"/>
<text class="fs b" x="58.9" y="494.0" font-size="5.8" text-anchor="middle" stroke="#000" stroke-width="0.12">1</text>
<line x1="72.37" y1="485.40" x2="72.37" y2="488.30" stroke="#111" stroke-width="0.8"/>
<text class="fs b" x="71.1" y="494.0" font-size="5.8" text-anchor="middle" stroke="#000" stroke-width="0.12">2</text>
<line x1="84.50" y1="485.40" x2="84.50" y2="488.30" stroke="#111" stroke-width="0.8"/>
<text class="fs b" x="83.2" y="494.0" font-size="5.8" text-anchor="middle" stroke="#000" stroke-width="0.12">3</text>
<line x1="96.62" y1="485.40" x2="96.62" y2="488.30" stroke="#111" stroke-width="0.8"/>
<text class="fs b" x="95.3" y="494.0" font-size="5.8" text-anchor="middle" stroke="#000" stroke-width="0.12">4</text>
<line x1="108.75" y1="485.40" x2="108.75" y2="488.30" stroke="#111" stroke-width="0.8"/>
<text class="fs b" x="107.4" y="494.0" font-size="5.8" text-anchor="middle" stroke="#000" stroke-width="0.12">5</text>
<line x1="120.87" y1="485.40" x2="120.87" y2="488.30" stroke="#111" stroke-width="0.8"/>
<text class="fs b" x="119.6" y="494.0" font-size="5.8" text-anchor="middle" stroke="#000" stroke-width="0.12">6</text>
<line x1="133.00" y1="485.40" x2="133.00" y2="488.30" stroke="#111" stroke-width="0.8"/>
<text class="fs b" x="131.7" y="494.0" font-size="5.8" text-anchor="middle" stroke="#000" stroke-width="0.12">7</text>
<line x1="145.12" y1="485.40" x2="145.12" y2="488.30" stroke="#111" stroke-width="0.8"/>
<text class="fs b" x="143.8" y="494.0" font-size="5.8" text-anchor="middle" stroke="#000" stroke-width="0.12">8</text>
<line x1="157.25" y1="485.40" x2="157.25" y2="488.30" stroke="#111" stroke-width="0.8"/>
<text class="fs b" x="155.9" y="494.0" font-size="5.8" text-anchor="middle" stroke="#000" stroke-width="0.12">9</text>
<line x1="169.37" y1="485.40" x2="169.37" y2="488.30" stroke="#111" stroke-width="0.8"/>
<text class="fs b" x="168.1" y="494.0" font-size="5.8" text-anchor="middle" stroke="#000" stroke-width="0.12">10</text>
<line x1="181.50" y1="485.40" x2="181.50" y2="488.30" stroke="#111" stroke-width="0.8"/>
<line x1="193.62" y1="485.40" x2="193.62" y2="488.30" stroke="#111" stroke-width="0.8"/>
<text class="fs b" x="192.3" y="494.0" font-size="5.8" text-anchor="middle" stroke="#000" stroke-width="0.12">1</text>
<line x1="205.75" y1="485.40" x2="205.75" y2="488.30" stroke="#111" stroke-width="0.8"/>
<text class="fs b" x="204.4" y="494.0" font-size="5.8" text-anchor="middle" stroke="#000" stroke-width="0.12">2</text>
<line x1="217.87" y1="485.40" x2="217.87" y2="488.30" stroke="#111" stroke-width="0.8"/>
<text class="fs b" x="216.6" y="494.0" font-size="5.8" text-anchor="middle" stroke="#000" stroke-width="0.12">3</text>
<text class="fs b" x="118.1" y="501.9" font-size="5.7" text-anchor="middle" textLength="50.3" lengthAdjust="spacingAndGlyphs" stroke="#000" stroke-width="0.12">Acquisition Learning</text>
<text class="fs b" x="118.1" y="507.5" font-size="5.7" text-anchor="middle" textLength="18.3" lengthAdjust="spacingAndGlyphs" stroke="#000" stroke-width="0.12">Session</text>
<text class="fs b" x="205.9" y="501.0" font-size="5.7" text-anchor="middle" textLength="42.8" lengthAdjust="spacingAndGlyphs" stroke="#000" stroke-width="0.12">Reversal Learning</text>
<text class="fs b" x="205.9" y="506.6" font-size="5.7" text-anchor="middle" textLength="18.3" lengthAdjust="spacingAndGlyphs" stroke="#000" stroke-width="0.12">Session</text>
<text class="fs" x="150.6" y="371.8" font-size="11.7" text-anchor="middle" textLength="115.2" lengthAdjust="spacingAndGlyphs" stroke="#000" stroke-width="0.2" xml:space="preserve">Male 0.03%  Aspartame</text>
<rect x="83.10" y="389.15" width="7.00" height="3.5" fill="#000"/>
<rect x="84.10" y="390.10" width="5.00" height="1.6" fill="#fff"/>
<text class="fn" x="94.0" y="392.9" font-size="5.9" textLength="16.7" lengthAdjust="spacingAndGlyphs" stroke="#000" stroke-width="0.2">Spatial</text>
<rect x="120.20" y="389.15" width="7.70" height="3.5" fill="#000"/>
<rect x="124.25" y="390.65" width="1.5" height="1.0" fill="#fff"/>
<rect x="121.20" y="390.70" width="1.7" height="0.9" fill="#8a8a8a"/>
<text class="fn" x="131.9" y="392.9" font-size="5.9" textLength="13.9" lengthAdjust="spacingAndGlyphs" stroke="#000" stroke-width="0.2">Serial</text>
<rect x="158.00" y="389.15" width="7.00" height="3.5" fill="#000"/>
<rect x="159.00" y="390.10" width="5.00" height="1.6" fill="#7f7f7f"/>
<text class="fn" x="169.3" y="392.9" font-size="5.9" textLength="20.1" lengthAdjust="spacingAndGlyphs" stroke="#000" stroke-width="0.2">Random</text>
<text class="fs b" font-size="7.4" text-anchor="middle" textLength="38.7" lengthAdjust="spacingAndGlyphs" transform="translate(35.1,443.0) rotate(-90)">Strategy (%)</text>
<rect x="282.50" y="487.40" width="122.30" height="22.60" fill="#d9d9d9"/>
<rect x="407.70" y="487.40" width="51.40" height="22.60" fill="#d9d9d9"/>
<rect x="286.77" y="400.10" width="7.05" height="84.70" fill="#fff" stroke="#000" stroke-width="1.0"/>
<rect x="286.77" y="400.10" width="7.05" height="21.17" fill="#fff"/>
<path d="M291.40 400.10L293.30 400.10L293.82 400.56L293.82 402.22ZM287.40 400.10L289.30 400.10L293.82 404.06L293.82 405.72ZM286.77 403.05L286.77 401.39L293.82 407.56L293.82 409.22ZM286.77 406.55L286.77 404.89L293.82 411.06L293.82 412.72ZM286.77 410.05L286.77 408.39L293.82 414.56L293.82 416.22ZM286.77 413.55L286.77 411.89L293.82 418.06L293.82 419.72ZM291.60 421.27L286.77 417.05L286.77 415.39L293.50 421.27ZM287.60 421.27L286.77 420.55L286.77 418.89L289.50 421.27Z" fill="#000"/>
<rect x="286.77" y="400.10" width="7.05" height="21.17" fill="none" stroke="#000" stroke-width="1.0"/>
<rect x="286.77" y="421.27" width="7.05" height="63.52" fill="#7f7f7f" stroke="#000" stroke-width="1.0"/>
<rect x="298.90" y="400.10" width="7.05" height="84.70" fill="#fff" stroke="#000" stroke-width="1.0"/>
<rect x="298.90" y="400.10" width="7.05" height="21.17" fill="#fff"/>
<path d="M303.40 400.10L305.30 400.10L305.95 400.67L305.95 402.33ZM299.40 400.10L301.30 400.10L305.95 404.17L305.95 405.83ZM298.90 403.16L298.90 401.50L305.95 407.67L305.95 409.33ZM298.90 406.66L298.90 405.00L305.95 411.17L305.95 412.83ZM298.90 410.16L298.90 408.50L305.95 414.67L305.95 416.33ZM298.90 413.66L298.90 412.00L305.95 418.17L305.95 419.83ZM303.60 421.27L298.90 417.16L298.90 415.50L305.50 421.27ZM299.60 421.27L298.90 420.66L298.90 419.00L301.50 421.27Z" fill="#000"/>
<rect x="298.90" y="400.10" width="7.05" height="21.17" fill="none" stroke="#000" stroke-width="1.0"/>
<rect x="298.90" y="421.27" width="7.05" height="63.52" fill="#7f7f7f" stroke="#000" stroke-width="1.0"/>
<rect x="311.02" y="400.10" width="7.05" height="84.70" fill="#fff" stroke="#000" stroke-width="1.0"/>
<rect x="311.02" y="400.10" width="7.05" height="31.76" fill="#fff"/>
<path d="M315.40 400.10L317.30 400.10L318.07 400.78L318.07 402.44ZM311.40 400.10L313.30 400.10L318.07 404.28L318.07 405.94ZM311.02 403.27L311.02 401.61L318.07 407.78L318.07 409.44ZM311.02 406.77L311.02 405.11L318.07 411.28L318.07 412.94ZM311.02 410.27L311.02 408.61L318.07 414.78L318.07 416.44ZM311.02 413.77L311.02 412.11L318.07 418.28L318.07 419.94ZM311.02 417.27L311.02 415.61L318.07 421.78L318.07 423.44ZM311.02 420.77L311.02 419.11L318.07 425.28L318.07 426.94ZM311.02 424.27L311.02 422.61L318.07 428.78L318.07 430.44ZM315.70 431.86L311.02 427.77L311.02 426.11L317.60 431.86ZM311.70 431.86L311.02 431.27L311.02 429.61L313.60 431.86Z" fill="#000"/>
<rect x="311.02" y="400.10" width="7.05" height="31.76" fill="none" stroke="#000" stroke-width="1.0"/>
<rect x="311.02" y="431.86" width="7.05" height="52.94" fill="#7f7f7f" stroke="#000" stroke-width="1.0"/>
<rect x="323.15" y="400.10" width="7.05" height="84.70" fill="#fff" stroke="#000" stroke-width="1.0"/>
<rect x="323.15" y="410.69" width="7.05" height="52.94" fill="#fff"/>
<path d="M327.50 410.69L329.40 410.69L330.20 411.39L330.20 413.05ZM323.50 410.69L325.40 410.69L330.20 414.89L330.20 416.55ZM323.15 413.88L323.15 412.22L330.20 418.39L330.20 420.05ZM323.15 417.38L323.15 415.72L330.20 421.89L330.20 423.55ZM323.15 420.88L323.15 419.22L330.20 425.39L330.20 427.05ZM323.15 424.38L323.15 422.72L330.20 428.89L330.20 430.55ZM323.15 427.88L323.15 426.22L330.20 432.39L330.20 434.05ZM323.15 431.38L323.15 429.72L330.20 435.89L330.20 437.55ZM323.15 434.88L323.15 433.22L330.20 439.39L330.20 441.05ZM323.15 438.38L323.15 436.72L330.20 442.89L330.20 444.55ZM323.15 441.88L323.15 440.22L330.20 446.39L330.20 448.05ZM323.15 445.38L323.15 443.72L330.20 449.89L330.20 451.55ZM323.15 448.88L323.15 447.22L330.20 453.39L330.20 455.05ZM323.15 452.38L323.15 450.72L330.20 456.89L330.20 458.55ZM323.15 455.88L323.15 454.22L330.20 460.39L330.20 462.05ZM328.00 463.62L323.15 459.38L323.15 457.72L329.90 463.62ZM324.00 463.62L323.15 462.88L323.15 461.22L325.90 463.62Z" fill="#000"/>
<rect x="323.15" y="410.69" width="7.05" height="52.94" fill="none" stroke="#000" stroke-width="1.0"/>
<rect x="323.15" y="463.62" width="7.05" height="21.17" fill="#7f7f7f" stroke="#000" stroke-width="1.0"/>
<rect x="335.27" y="400.10" width="7.05" height="84.70" fill="#fff" stroke="#000" stroke-width="1.0"/>
<rect x="335.27" y="421.27" width="7.05" height="63.52" fill="#fff"/>
<path d="M339.60 421.27L341.50 421.27L342.32 422.00L342.32 423.66ZM335.60 421.27L337.50 421.27L342.32 425.50L342.32 427.16ZM335.27 424.49L335.27 422.83L342.32 429.00L342.32 430.66ZM335.27 427.99L335.27 426.33L342.32 432.50L342.32 434.16ZM335.27 431.49L335.27 429.83L342.32 436.00L342.32 437.66ZM335.27 434.99L335.27 433.33L342.32 439.50L342.32 441.16ZM335.27 438.49L335.27 436.83L342.32 443.00L342.32 444.66ZM335.27 441.99L335.27 440.33L342.32 446.50L342.32 448.16ZM335.27 445.49L335.27 443.83L342.32 450.00L342.32 451.66ZM335.27 448.99L335.27 447.33L342.32 453.50L342.32 455.16ZM335.27 452.49L335.27 450.83L342.32 457.00L342.32 458.66ZM335.27 455.99L335.27 454.33L342.32 460.50L342.32 462.16ZM335.27 459.49L335.27 457.83L342.32 464.00L342.32 465.66ZM335.27 462.99L335.27 461.33L342.32 467.50L342.32 469.16ZM335.27 466.49L335.27 464.83L342.32 471.00L342.32 472.66ZM335.27 469.99L335.27 468.33L342.32 474.50L342.32 476.16ZM335.27 473.49L335.27 471.83L342.32 478.00L342.32 479.66ZM335.27 476.99L335.27 475.33L342.32 481.50L342.32 483.16ZM340.20 484.80L335.27 480.49L335.27 478.83L342.10 484.80ZM336.20 484.80L335.27 483.99L335.27 482.33L338.10 484.80Z" fill="#000"/>
<rect x="335.27" y="421.27" width="7.05" height="63.52" fill="none" stroke="#000" stroke-width="1.0"/>
<rect x="347.40" y="400.10" width="7.05" height="84.70" fill="#fff" stroke="#000" stroke-width="1.0"/>
<rect x="347.40" y="421.27" width="7.05" height="63.52" fill="#fff"/>
<path d="M351.60 421.27L353.50 421.27L354.45 422.11L354.45 423.77ZM347.60 421.27L349.50 421.27L354.45 425.61L354.45 427.27ZM347.40 424.60L347.40 422.94L354.45 429.11L354.45 430.77ZM347.40 428.10L347.40 426.44L354.45 432.61L354.45 434.27ZM347.40 431.60L347.40 429.94L354.45 436.11L354.45 437.77ZM347.40 435.10L347.40 433.44L354.45 439.61L354.45 441.27ZM347.40 438.60L347.40 436.94L354.45 443.11L354.45 444.77ZM347.40 442.10L347.40 440.44L354.45 446.61L354.45 448.27ZM347.40 445.60L347.40 443.94L354.45 450.11L354.45 451.77ZM347.40 449.10L347.40 447.44L354.45 453.61L354.45 455.27ZM347.40 452.60L347.40 450.94L354.45 457.11L354.45 458.77ZM347.40 456.10L347.40 454.44L354.45 460.61L354.45 462.27ZM347.40 459.60L347.40 457.94L354.45 464.11L354.45 465.77ZM347.40 463.10L347.40 461.44L354.45 467.61L354.45 469.27ZM347.40 466.60L347.40 464.94L354.45 471.11L354.45 472.77ZM347.40 470.10L347.40 468.44L354.45 474.61L354.45 476.27ZM347.40 473.60L347.40 471.94L354.45 478.11L354.45 479.77ZM347.40 477.10L347.40 475.44L354.45 481.61L354.45 483.27ZM352.20 484.80L347.40 480.60L347.40 478.94L354.10 484.80ZM348.20 484.80L347.40 484.10L347.40 482.44L350.10 484.80Z" fill="#000"/>
<rect x="347.40" y="421.27" width="7.05" height="63.52" fill="none" stroke="#000" stroke-width="1.0"/>
<rect x="359.52" y="400.10" width="7.05" height="84.70" fill="#fff" stroke="#000" stroke-width="1.0"/>
<rect x="359.52" y="431.86" width="7.05" height="52.94" fill="#fff"/>
<path d="M363.70 431.86L365.60 431.86L366.57 432.72L366.57 434.38ZM359.70 431.86L361.60 431.86L366.57 436.21L366.57 437.88ZM359.52 435.21L359.52 433.55L366.57 439.71L366.57 441.38ZM359.52 438.71L359.52 437.05L366.57 443.21L366.57 444.88ZM359.52 442.21L359.52 440.55L366.57 446.71L366.57 448.38ZM359.52 445.71L359.52 444.05L366.57 450.21L366.57 451.88ZM359.52 449.21L359.52 447.55L366.57 453.71L366.57 455.38ZM359.52 452.71L359.52 451.05L366.57 457.21L366.57 458.88ZM359.52 456.21L359.52 454.55L366.57 460.71L366.57 462.38ZM359.52 459.71L359.52 458.05L366.57 464.21L366.57 465.88ZM359.52 463.21L359.52 461.55L366.57 467.71L366.57 469.38ZM359.52 466.71L359.52 465.05L366.57 471.21L366.57 472.88ZM359.52 470.21L359.52 468.55L366.57 474.71L366.57 476.38ZM359.52 473.71L359.52 472.05L366.57 478.21L366.57 479.88ZM359.52 477.21L359.52 475.55L366.57 481.71L366.57 483.38ZM364.20 484.80L359.52 480.71L359.52 479.05L366.10 484.80ZM360.20 484.80L359.52 484.21L359.52 482.55L362.10 484.80Z" fill="#000"/>
<rect x="359.52" y="431.86" width="7.05" height="52.94" fill="none" stroke="#000" stroke-width="1.0"/>
<rect x="371.65" y="400.10" width="7.05" height="84.70" fill="#fff" stroke="#000" stroke-width="1.0"/>
<rect x="371.65" y="442.45" width="7.05" height="42.35" fill="#fff"/>
<path d="M375.80 442.45L377.70 442.45L378.70 443.32L378.70 444.99ZM371.80 442.45L373.70 442.45L378.70 446.82L378.70 448.49ZM371.65 445.82L371.65 444.16L378.70 450.32L378.70 451.99ZM371.65 449.32L371.65 447.66L378.70 453.82L378.70 455.49ZM371.65 452.82L371.65 451.16L378.70 457.32L378.70 458.99ZM371.65 456.32L371.65 454.66L378.70 460.82L378.70 462.48ZM371.65 459.82L371.65 458.16L378.70 464.32L378.70 465.98ZM371.65 463.32L371.65 461.66L378.70 467.82L378.70 469.48ZM371.65 466.82L371.65 465.16L378.70 471.32L378.70 472.98ZM371.65 470.32L371.65 468.66L378.70 474.82L378.70 476.48ZM371.65 473.82L371.65 472.16L378.70 478.32L378.70 479.98ZM371.65 477.32L371.65 475.66L378.70 481.82L378.70 483.48ZM376.20 484.80L371.65 480.82L371.65 479.16L378.10 484.80ZM372.20 484.80L371.65 484.32L371.65 482.66L374.10 484.80Z" fill="#000"/>
<rect x="371.65" y="442.45" width="7.05" height="42.35" fill="none" stroke="#000" stroke-width="1.0"/>
<rect x="383.77" y="400.10" width="7.05" height="84.70" fill="#fff" stroke="#000" stroke-width="1.0"/>
<rect x="383.77" y="442.45" width="7.05" height="42.35" fill="#fff"/>
<path d="M387.80 442.45L389.70 442.45L390.82 443.43L390.82 445.09ZM383.80 442.45L385.70 442.45L390.82 446.93L390.82 448.59ZM383.77 445.93L383.77 444.26L390.82 450.43L390.82 452.09ZM383.77 449.43L383.77 447.76L390.82 453.93L390.82 455.59ZM383.77 452.93L383.77 451.26L390.82 457.43L390.82 459.09ZM383.77 456.43L383.77 454.76L390.82 460.93L390.82 462.59ZM383.77 459.93L383.77 458.26L390.82 464.43L390.82 466.09ZM383.77 463.43L383.77 461.76L390.82 467.93L390.82 469.59ZM383.77 466.93L383.77 465.26L390.82 471.43L390.82 473.09ZM383.77 470.43L383.77 468.76L390.82 474.93L390.82 476.59ZM383.77 473.93L383.77 472.26L390.82 478.43L390.82 480.09ZM383.77 477.43L383.77 475.76L390.82 481.93L390.82 483.59ZM388.20 484.80L383.77 480.93L383.77 479.26L390.10 484.80ZM384.20 484.80L383.77 484.43L383.77 482.76L386.10 484.80Z" fill="#000"/>
<rect x="383.77" y="442.45" width="7.05" height="42.35" fill="none" stroke="#000" stroke-width="1.0"/>
<rect x="395.90" y="400.10" width="7.05" height="84.70" fill="#fff" stroke="#000" stroke-width="1.0"/>
<rect x="395.90" y="463.62" width="7.05" height="21.17" fill="#fff"/>
<path d="M400.00 463.62L401.90 463.62L402.95 464.54L402.95 466.20ZM396.00 463.62L397.90 463.62L402.95 468.04L402.95 469.70ZM395.90 467.03L395.90 465.37L402.95 471.54L402.95 473.20ZM395.90 470.53L395.90 468.87L402.95 475.04L402.95 476.70ZM395.90 474.03L395.90 472.37L402.95 478.54L402.95 480.20ZM395.90 477.53L395.90 475.87L402.95 482.04L402.95 483.70ZM400.20 484.80L395.90 481.03L395.90 479.37L402.10 484.80ZM396.20 484.80L395.90 484.53L395.90 482.87L398.10 484.80Z" fill="#000"/>
<rect x="395.90" y="463.62" width="7.05" height="21.17" fill="none" stroke="#000" stroke-width="1.0"/>
<rect x="420.15" y="400.10" width="7.05" height="84.70" fill="#fff" stroke="#000" stroke-width="1.0"/>
<rect x="420.15" y="421.27" width="7.05" height="63.52" fill="#fff"/>
<path d="M423.60 421.27L425.50 421.27L427.20 422.76L427.20 424.42ZM420.15 421.75L420.15 421.27L421.50 421.27L427.20 426.26L427.20 427.92ZM420.15 425.25L420.15 423.59L427.20 429.76L427.20 431.42ZM420.15 428.75L420.15 427.09L427.20 433.26L427.20 434.92ZM420.15 432.25L420.15 430.59L427.20 436.76L427.20 438.42ZM420.15 435.75L420.15 434.09L427.20 440.26L427.20 441.92ZM420.15 439.25L420.15 437.59L427.20 443.76L427.20 445.42ZM420.15 442.75L420.15 441.09L427.20 447.26L427.20 448.92ZM420.15 446.25L420.15 444.59L427.20 450.76L427.20 452.42ZM420.15 449.75L420.15 448.09L427.20 454.26L427.20 455.92ZM420.15 453.25L420.15 451.59L427.20 457.76L427.20 459.42ZM420.15 456.75L420.15 455.09L427.20 461.26L427.20 462.92ZM420.15 460.25L420.15 458.59L427.20 464.76L427.20 466.42ZM420.15 463.75L420.15 462.09L427.20 468.26L427.20 469.92ZM420.15 467.25L420.15 465.59L427.20 471.76L427.20 473.42ZM420.15 470.75L420.15 469.09L427.20 475.26L427.20 476.92ZM420.15 474.25L420.15 472.59L427.20 478.76L427.20 480.42ZM420.15 477.75L420.15 476.09L427.20 482.26L427.20 483.92ZM424.20 484.80L420.15 481.25L420.15 479.59L426.10 484.80ZM420.20 484.80L420.15 484.75L420.15 483.09L422.10 484.80Z" fill="#000"/>
<rect x="420.15" y="421.27" width="7.05" height="63.52" fill="none" stroke="#000" stroke-width="1.0"/>
<rect x="432.27" y="400.10" width="7.05" height="84.70" fill="#fff" stroke="#000" stroke-width="1.0"/>
<rect x="432.27" y="453.04" width="7.05" height="31.76" fill="#fff"/>
<path d="M435.90 453.04L437.80 453.04L439.32 454.37L439.32 456.03ZM432.27 453.36L432.27 453.04L433.80 453.04L439.32 457.87L439.32 459.53ZM432.27 456.86L432.27 455.20L439.32 461.37L439.32 463.03ZM432.27 460.36L432.27 458.70L439.32 464.87L439.32 466.53ZM432.27 463.86L432.27 462.20L439.32 468.37L439.32 470.03ZM432.27 467.36L432.27 465.70L439.32 471.87L439.32 473.53ZM432.27 470.86L432.27 469.20L439.32 475.37L439.32 477.03ZM432.27 474.36L432.27 472.70L439.32 478.87L439.32 480.53ZM432.27 477.86L432.27 476.20L439.32 482.37L439.32 484.03ZM436.20 484.80L432.27 481.36L432.27 479.70L438.10 484.80ZM432.27 484.80L432.27 483.20L434.10 484.80Z" fill="#000"/>
<rect x="432.27" y="453.04" width="7.05" height="31.76" fill="none" stroke="#000" stroke-width="1.0"/>
<rect x="444.40" y="400.10" width="7.05" height="84.70" fill="#fff" stroke="#000" stroke-width="1.0"/>
<rect x="444.40" y="474.21" width="7.05" height="10.59" fill="#fff"/>
<path d="M448.10 474.21L450.00 474.21L451.45 475.48L451.45 477.14ZM444.40 474.47L444.40 474.21L446.00 474.21L451.45 478.98L451.45 480.64ZM444.40 477.97L444.40 476.31L451.45 482.48L451.45 484.14ZM448.20 484.80L444.40 481.47L444.40 479.81L450.10 484.80ZM444.40 484.80L444.40 483.31L446.10 484.80Z" fill="#000"/>
<rect x="444.40" y="474.21" width="7.05" height="10.59" fill="none" stroke="#000" stroke-width="1.0"/>
<line x1="281.60" y1="399.70" x2="281.60" y2="485.30" stroke="#333" stroke-width="0.7"/>
<line x1="279.20" y1="484.80" x2="456.20" y2="484.80" stroke="#000" stroke-width="1.1"/>
<line x1="279.20" y1="484.80" x2="281.60" y2="484.80" stroke="#000" stroke-width="0.9"/>
<text class="fs b" x="279.0" y="486.9" font-size="6.3" text-anchor="end" textLength="3.5" lengthAdjust="spacingAndGlyphs">0</text>
<line x1="279.20" y1="467.86" x2="281.60" y2="467.86" stroke="#000" stroke-width="0.9"/>
<text class="fs b" x="279.0" y="470.0" font-size="6.3" text-anchor="end" textLength="7.1" lengthAdjust="spacingAndGlyphs">20</text>
<line x1="279.20" y1="450.92" x2="281.60" y2="450.92" stroke="#000" stroke-width="0.9"/>
<text class="fs b" x="279.0" y="453.1" font-size="6.3" text-anchor="end" textLength="7.1" lengthAdjust="spacingAndGlyphs">40</text>
<line x1="279.20" y1="433.98" x2="281.60" y2="433.98" stroke="#000" stroke-width="0.9"/>
<text class="fs b" x="279.0" y="436.1" font-size="6.3" text-anchor="end" textLength="7.1" lengthAdjust="spacingAndGlyphs">60</text>
<line x1="279.20" y1="417.04" x2="281.60" y2="417.04" stroke="#000" stroke-width="0.9"/>
<text class="fs b" x="279.0" y="419.2" font-size="6.3" text-anchor="end" textLength="7.1" lengthAdjust="spacingAndGlyphs">80</text>
<line x1="279.20" y1="400.10" x2="281.60" y2="400.10" stroke="#000" stroke-width="0.9"/>
<text class="fs b" x="279.0" y="402.2" font-size="6.3" text-anchor="end" textLength="10.6" lengthAdjust="spacingAndGlyphs">100</text>
<line x1="290.50" y1="484.80" x2="290.50" y2="487.70" stroke="#111" stroke-width="0.8"/>
<text class="fs b" x="289.2" y="493.4" font-size="5.8" text-anchor="middle" stroke="#000" stroke-width="0.12">1</text>
<line x1="302.62" y1="484.80" x2="302.62" y2="487.70" stroke="#111" stroke-width="0.8"/>
<text class="fs b" x="301.3" y="493.4" font-size="5.8" text-anchor="middle" stroke="#000" stroke-width="0.12">2</text>
<line x1="314.75" y1="484.80" x2="314.75" y2="487.70" stroke="#111" stroke-width="0.8"/>
<text class="fs b" x="313.4" y="493.4" font-size="5.8" text-anchor="middle" stroke="#000" stroke-width="0.12">3</text>
<line x1="326.87" y1="484.80" x2="326.87" y2="487.70" stroke="#111" stroke-width="0.8"/>
<text class="fs b" x="325.6" y="493.4" font-size="5.8" text-anchor="middle" stroke="#000" stroke-width="0.12">4</text>
<line x1="339.00" y1="484.80" x2="339.00" y2="487.70" stroke="#111" stroke-width="0.8"/>
<text class="fs b" x="337.7" y="493.4" font-size="5.8" text-anchor="middle" stroke="#000" stroke-width="0.12">5</text>
<line x1="351.12" y1="484.80" x2="351.12" y2="487.70" stroke="#111" stroke-width="0.8"/>
<text class="fs b" x="349.8" y="493.4" font-size="5.8" text-anchor="middle" stroke="#000" stroke-width="0.12">6</text>
<line x1="363.25" y1="484.80" x2="363.25" y2="487.70" stroke="#111" stroke-width="0.8"/>
<text class="fs b" x="361.9" y="493.4" font-size="5.8" text-anchor="middle" stroke="#000" stroke-width="0.12">7</text>
<line x1="375.37" y1="484.80" x2="375.37" y2="487.70" stroke="#111" stroke-width="0.8"/>
<text class="fs b" x="374.1" y="493.4" font-size="5.8" text-anchor="middle" stroke="#000" stroke-width="0.12">8</text>
<line x1="387.50" y1="484.80" x2="387.50" y2="487.70" stroke="#111" stroke-width="0.8"/>
<text class="fs b" x="386.2" y="493.4" font-size="5.8" text-anchor="middle" stroke="#000" stroke-width="0.12">9</text>
<line x1="399.62" y1="484.80" x2="399.62" y2="487.70" stroke="#111" stroke-width="0.8"/>
<text class="fs b" x="398.3" y="493.4" font-size="5.8" text-anchor="middle" stroke="#000" stroke-width="0.12">10</text>
<line x1="411.75" y1="484.80" x2="411.75" y2="487.70" stroke="#111" stroke-width="0.8"/>
<line x1="423.87" y1="484.80" x2="423.87" y2="487.70" stroke="#111" stroke-width="0.8"/>
<text class="fs b" x="422.6" y="493.4" font-size="5.8" text-anchor="middle" stroke="#000" stroke-width="0.12">1</text>
<line x1="436.00" y1="484.80" x2="436.00" y2="487.70" stroke="#111" stroke-width="0.8"/>
<text class="fs b" x="434.7" y="493.4" font-size="5.8" text-anchor="middle" stroke="#000" stroke-width="0.12">2</text>
<line x1="448.12" y1="484.80" x2="448.12" y2="487.70" stroke="#111" stroke-width="0.8"/>
<text class="fs b" x="446.8" y="493.4" font-size="5.8" text-anchor="middle" stroke="#000" stroke-width="0.12">3</text>
<text class="fs b" x="348.4" y="501.3" font-size="5.7" text-anchor="middle" textLength="50.3" lengthAdjust="spacingAndGlyphs" stroke="#000" stroke-width="0.12">Acquisition Learning</text>
<text class="fs b" x="348.4" y="506.9" font-size="5.7" text-anchor="middle" textLength="18.3" lengthAdjust="spacingAndGlyphs" stroke="#000" stroke-width="0.12">Session</text>
<text class="fs b" x="436.2" y="500.4" font-size="5.7" text-anchor="middle" textLength="42.8" lengthAdjust="spacingAndGlyphs" stroke="#000" stroke-width="0.12">Reversal Learning</text>
<text class="fs b" x="436.2" y="506.0" font-size="5.7" text-anchor="middle" textLength="18.3" lengthAdjust="spacingAndGlyphs" stroke="#000" stroke-width="0.12">Session</text>
<text class="fs" x="366.0" y="370.1" font-size="11.7" text-anchor="middle" textLength="73.8" lengthAdjust="spacingAndGlyphs" stroke="#000" stroke-width="0.2" xml:space="preserve">Female Control</text>
<rect x="312.20" y="388.25" width="7.30" height="3.5" fill="#000"/>
<rect x="313.20" y="389.20" width="5.30" height="1.6" fill="#fff"/>
<text class="fn" x="323.4" y="391.9" font-size="5.9" textLength="16.7" lengthAdjust="spacingAndGlyphs" stroke="#000" stroke-width="0.2">Spatial</text>
<rect x="353.10" y="388.25" width="7.80" height="3.5" fill="#000"/>
<rect x="357.15" y="389.75" width="1.5" height="1.0" fill="#fff"/>
<rect x="354.10" y="389.80" width="1.7" height="0.9" fill="#8a8a8a"/>
<text class="fn" x="364.8" y="391.9" font-size="5.9" textLength="14.2" lengthAdjust="spacingAndGlyphs" stroke="#000" stroke-width="0.2">Serial</text>
<rect x="391.00" y="388.25" width="7.20" height="3.5" fill="#000"/>
<rect x="392.00" y="389.20" width="5.20" height="1.6" fill="#7f7f7f"/>
<text class="fn" x="402.0" y="391.9" font-size="5.9" textLength="20.1" lengthAdjust="spacingAndGlyphs" stroke="#000" stroke-width="0.2">Random</text>
<text class="fs b" font-size="7.4" text-anchor="middle" textLength="38.7" lengthAdjust="spacingAndGlyphs" transform="translate(265.4,442.4) rotate(-90)">Strategy (%)</text>
<rect x="508.85" y="487.75" width="122.30" height="22.60" fill="#d9d9d9"/>
<rect x="634.05" y="487.75" width="50.95" height="22.60" fill="#d9d9d9"/>
<rect x="513.12" y="400.45" width="7.05" height="84.70" fill="#fff" stroke="#000" stroke-width="1.0"/>
<rect x="513.12" y="400.45" width="7.05" height="21.18" fill="#fff"/>
<path d="M520.17 400.78L519.80 400.45L520.17 400.45ZM515.80 400.45L517.70 400.45L520.17 402.62L520.17 404.28ZM513.12 401.61L513.12 400.45L513.70 400.45L520.17 406.12L520.17 407.78ZM513.12 405.11L513.12 403.45L520.17 409.62L520.17 411.28ZM513.12 408.61L513.12 406.95L520.17 413.12L520.17 414.78ZM513.12 412.11L513.12 410.45L520.17 416.62L520.17 418.28ZM520.00 421.62L513.12 415.61L513.12 413.95L520.17 420.12L520.17 421.62ZM516.00 421.62L513.12 419.11L513.12 417.45L517.90 421.62ZM513.12 421.62L513.12 420.95L513.90 421.62Z" fill="#000"/>
<rect x="513.12" y="400.45" width="7.05" height="21.18" fill="none" stroke="#000" stroke-width="1.0"/>
<rect x="513.12" y="421.62" width="7.05" height="63.52" fill="#7f7f7f" stroke="#000" stroke-width="1.0"/>
<rect x="525.25" y="400.45" width="7.05" height="84.70" fill="#fff" stroke="#000" stroke-width="1.0"/>
<rect x="525.25" y="400.45" width="7.05" height="21.18" fill="#fff"/>
<path d="M532.30 400.89L531.80 400.45L532.30 400.45ZM527.80 400.45L529.70 400.45L532.30 402.72L532.30 404.39ZM525.25 401.72L525.25 400.45L525.70 400.45L532.30 406.22L532.30 407.89ZM525.25 405.22L525.25 403.56L532.30 409.72L532.30 411.39ZM525.25 408.72L525.25 407.06L532.30 413.22L532.30 414.89ZM525.25 412.22L525.25 410.56L532.30 416.72L532.30 418.39ZM532.00 421.62L525.25 415.72L525.25 414.06L532.30 420.22L532.30 421.62ZM528.00 421.62L525.25 419.22L525.25 417.56L529.90 421.62ZM525.25 421.62L525.25 421.06L525.90 421.62Z" fill="#000"/>
<rect x="525.25" y="400.45" width="7.05" height="21.18" fill="none" stroke="#000" stroke-width="1.0"/>
<rect x="525.25" y="421.62" width="7.05" height="63.52" fill="#7f7f7f" stroke="#000" stroke-width="1.0"/>
<rect x="537.38" y="400.45" width="7.05" height="84.70" fill="#fff" stroke="#000" stroke-width="1.0"/>
<rect x="537.38" y="400.45" width="7.05" height="42.35" fill="#fff"/>
<path d="M544.42 401.00L543.80 400.45L544.42 400.45ZM539.80 400.45L541.70 400.45L544.42 402.83L544.42 404.50ZM537.38 401.83L537.38 400.45L537.70 400.45L544.42 406.33L544.42 407.99ZM537.38 405.33L537.38 403.67L544.42 409.83L544.42 411.49ZM537.38 408.83L537.38 407.17L544.42 413.33L544.42 414.99ZM537.38 412.33L537.38 410.67L544.42 416.83L544.42 418.49ZM537.38 415.83L537.38 414.17L544.42 420.33L544.42 421.99ZM537.38 419.33L537.38 417.67L544.42 423.83L544.42 425.49ZM537.38 422.83L537.38 421.17L544.42 427.33L544.42 428.99ZM537.38 426.33L537.38 424.67L544.42 430.83L544.42 432.49ZM537.38 429.83L537.38 428.17L544.42 434.33L544.42 435.99ZM537.38 433.33L537.38 431.66L544.42 437.83L544.42 439.49ZM544.20 442.80L537.38 436.83L537.38 435.16L544.42 441.33L544.42 442.80ZM540.20 442.80L537.38 440.33L537.38 438.66L542.10 442.80ZM537.38 442.80L537.38 442.16L538.10 442.80Z" fill="#000"/>
<rect x="537.38" y="400.45" width="7.05" height="42.35" fill="none" stroke="#000" stroke-width="1.0"/>
<rect x="537.38" y="442.80" width="7.05" height="42.35" fill="#7f7f7f" stroke="#000" stroke-width="1.0"/>
<rect x="549.50" y="400.45" width="7.05" height="84.70" fill="#fff" stroke="#000" stroke-width="1.0"/>
<rect x="549.50" y="421.62" width="7.05" height="52.94" fill="#fff"/>
<path d="M556.55 422.10L556.00 421.62L556.55 421.62ZM552.00 421.62L553.90 421.62L556.55 423.94L556.55 425.60ZM549.50 422.94L549.50 421.62L549.90 421.62L556.55 427.44L556.55 429.10ZM549.50 426.44L549.50 424.77L556.55 430.94L556.55 432.60ZM549.50 429.94L549.50 428.27L556.55 434.44L556.55 436.10ZM549.50 433.44L549.50 431.77L556.55 437.94L556.55 439.60ZM549.50 436.94L549.50 435.27L556.55 441.44L556.55 443.10ZM549.50 440.44L549.50 438.77L556.55 444.94L556.55 446.60ZM549.50 443.94L549.50 442.27L556.55 448.44L556.55 450.10ZM549.50 447.44L549.50 445.77L556.55 451.94L556.55 453.60ZM549.50 450.94L549.50 449.27L556.55 455.44L556.55 457.10ZM549.50 454.44L549.50 452.77L556.55 458.94L556.55 460.60ZM549.50 457.94L549.50 456.27L556.55 462.44L556.55 464.10ZM549.50 461.43L549.50 459.77L556.55 465.94L556.55 467.60ZM549.50 464.93L549.50 463.27L556.55 469.44L556.55 471.10ZM556.50 474.56L549.50 468.43L549.50 466.77L556.55 472.94L556.55 474.56ZM552.50 474.56L549.50 471.93L549.50 470.27L554.40 474.56ZM549.50 474.56L549.50 473.77L550.40 474.56Z" fill="#000"/>
<rect x="549.50" y="421.62" width="7.05" height="52.94" fill="none" stroke="#000" stroke-width="1.0"/>
<rect x="549.50" y="474.56" width="7.05" height="10.59" fill="#7f7f7f" stroke="#000" stroke-width="1.0"/>
<rect x="561.62" y="400.45" width="7.05" height="84.70" fill="#fff" stroke="#000" stroke-width="1.0"/>
<rect x="561.62" y="411.04" width="7.05" height="74.11" fill="#fff"/>
<path d="M568.67 411.71L567.90 411.04L568.67 411.04ZM563.90 411.04L565.80 411.04L568.67 413.55L568.67 415.21ZM561.62 412.54L561.62 411.04L561.80 411.04L568.67 417.05L568.67 418.71ZM561.62 416.04L561.62 414.38L568.67 420.55L568.67 422.21ZM561.62 419.54L561.62 417.88L568.67 424.05L568.67 425.71ZM561.62 423.04L561.62 421.38L568.67 427.55L568.67 429.21ZM561.62 426.54L561.62 424.88L568.67 431.05L568.67 432.71ZM561.62 430.04L561.62 428.38L568.67 434.55L568.67 436.21ZM561.62 433.54L561.62 431.88L568.67 438.05L568.67 439.71ZM561.62 437.04L561.62 435.38L568.67 441.55L568.67 443.21ZM561.62 440.54L561.62 438.88L568.67 445.05L568.67 446.71ZM561.62 444.04L561.62 442.38L568.67 448.55L568.67 450.21ZM561.62 447.54L561.62 445.88L568.67 452.05L568.67 453.71ZM561.62 451.04L561.62 449.38L568.67 455.55L568.67 457.21ZM561.62 454.54L561.62 452.88L568.67 459.05L568.67 460.71ZM561.62 458.04L561.62 456.38L568.67 462.55L568.67 464.21ZM561.62 461.54L561.62 459.88L568.67 466.05L568.67 467.71ZM561.62 465.04L561.62 463.38L568.67 469.55L568.67 471.21ZM561.62 468.54L561.62 466.88L568.67 473.05L568.67 474.71ZM561.62 472.04L561.62 470.38L568.67 476.55L568.67 478.21ZM561.62 475.54L561.62 473.88L568.67 480.05L568.67 481.71ZM568.60 485.15L561.62 479.04L561.62 477.38L568.67 483.55L568.67 485.15ZM564.60 485.15L561.62 482.54L561.62 480.88L566.50 485.15ZM561.62 485.15L561.62 484.38L562.50 485.15Z" fill="#000"/>
<rect x="561.62" y="411.04" width="7.05" height="74.11" fill="none" stroke="#000" stroke-width="1.0"/>
<rect x="573.75" y="400.45" width="7.05" height="84.70" fill="#fff" stroke="#000" stroke-width="1.0"/>
<rect x="573.75" y="421.62" width="7.05" height="52.94" fill="#fff"/>
<path d="M580.80 422.32L580.00 421.62L580.80 421.62ZM576.00 421.62L577.90 421.62L580.80 424.16L580.80 425.82ZM573.75 423.15L573.75 421.62L573.90 421.62L580.80 427.66L580.80 429.32ZM573.75 426.65L573.75 424.99L580.80 431.16L580.80 432.82ZM573.75 430.15L573.75 428.49L580.80 434.66L580.80 436.32ZM573.75 433.65L573.75 431.99L580.80 438.16L580.80 439.82ZM573.75 437.15L573.75 435.49L580.80 441.66L580.80 443.32ZM573.75 440.65L573.75 438.99L580.80 445.16L580.80 446.82ZM573.75 444.15L573.75 442.49L580.80 448.66L580.80 450.32ZM573.75 447.65L573.75 445.99L580.80 452.16L580.80 453.82ZM573.75 451.15L573.75 449.49L580.80 455.66L580.80 457.32ZM573.75 454.65L573.75 452.99L580.80 459.16L580.80 460.82ZM573.75 458.15L573.75 456.49L580.80 462.66L580.80 464.32ZM573.75 461.65L573.75 459.99L580.80 466.16L580.80 467.82ZM573.75 465.15L573.75 463.49L580.80 469.66L580.80 471.32ZM580.50 474.56L573.75 468.65L573.75 466.99L580.80 473.16L580.80 474.56ZM576.50 474.56L573.75 472.15L573.75 470.49L578.40 474.56ZM573.75 474.56L573.75 473.99L574.40 474.56Z" fill="#000"/>
<rect x="573.75" y="421.62" width="7.05" height="52.94" fill="none" stroke="#000" stroke-width="1.0"/>
<rect x="573.75" y="474.56" width="7.05" height="10.59" fill="#7f7f7f" stroke="#000" stroke-width="1.0"/>
<rect x="585.88" y="400.45" width="7.05" height="84.70" fill="#fff" stroke="#000" stroke-width="1.0"/>
<rect x="585.88" y="432.21" width="7.05" height="42.35" fill="#fff"/>
<path d="M592.92 432.93L592.10 432.21L592.92 432.21ZM588.10 432.21L590.00 432.21L592.92 434.77L592.92 436.43ZM585.88 433.76L585.88 432.21L586.00 432.21L592.92 438.27L592.92 439.93ZM585.88 437.26L585.88 435.60L592.92 441.77L592.92 443.43ZM585.88 440.76L585.88 439.10L592.92 445.27L592.92 446.93ZM585.88 444.26L585.88 442.60L592.92 448.77L592.92 450.43ZM585.88 447.76L585.88 446.10L592.92 452.27L592.92 453.93ZM585.88 451.26L585.88 449.60L592.92 455.77L592.92 457.43ZM585.88 454.76L585.88 453.10L592.92 459.27L592.92 460.93ZM585.88 458.26L585.88 456.60L592.92 462.77L592.92 464.43ZM585.88 461.76L585.88 460.10L592.92 466.27L592.92 467.93ZM585.88 465.26L585.88 463.60L592.92 469.77L592.92 471.43ZM592.50 474.56L585.88 468.76L585.88 467.10L592.92 473.27L592.92 474.56ZM588.50 474.56L585.88 472.26L585.88 470.60L590.40 474.56ZM585.88 474.56L585.88 474.10L586.40 474.56Z" fill="#000"/>
<rect x="585.88" y="432.21" width="7.05" height="42.35" fill="none" stroke="#000" stroke-width="1.0"/>
<rect x="585.88" y="474.56" width="7.05" height="10.59" fill="#7f7f7f" stroke="#000" stroke-width="1.0"/>
<rect x="598.00" y="400.45" width="7.05" height="84.70" fill="#fff" stroke="#000" stroke-width="1.0"/>
<rect x="598.00" y="442.80" width="7.05" height="42.35" fill="#fff"/>
<path d="M605.05 443.54L604.20 442.80L605.05 442.80ZM600.20 442.80L602.10 442.80L605.05 445.38L605.05 447.04ZM598.00 444.37L598.00 442.80L598.10 442.80L605.05 448.88L605.05 450.54ZM598.00 447.87L598.00 446.21L605.05 452.38L605.05 454.04ZM598.00 451.37L598.00 449.71L605.05 455.88L605.05 457.54ZM598.00 454.87L598.00 453.21L605.05 459.38L605.05 461.04ZM598.00 458.37L598.00 456.71L605.05 462.88L605.05 464.54ZM598.00 461.87L598.00 460.21L605.05 466.38L605.05 468.04ZM598.00 465.37L598.00 463.71L605.05 469.88L605.05 471.54ZM598.00 468.87L598.00 467.21L605.05 473.38L605.05 475.04ZM598.00 472.37L598.00 470.71L605.05 476.88L605.05 478.54ZM598.00 475.87L598.00 474.21L605.05 480.38L605.05 482.04ZM604.60 485.15L598.00 479.37L598.00 477.71L605.05 483.88L605.05 485.15ZM600.60 485.15L598.00 482.87L598.00 481.21L602.50 485.15ZM598.00 485.15L598.00 484.71L598.50 485.15Z" fill="#000"/>
<rect x="598.00" y="442.80" width="7.05" height="42.35" fill="none" stroke="#000" stroke-width="1.0"/>
<rect x="610.12" y="400.45" width="7.05" height="84.70" fill="#fff" stroke="#000" stroke-width="1.0"/>
<rect x="610.12" y="453.39" width="7.05" height="31.76" fill="#fff"/>
<path d="M617.17 454.15L616.30 453.39L617.17 453.39ZM612.30 453.39L614.20 453.39L617.17 455.99L617.17 457.65ZM610.12 454.98L610.12 453.39L610.20 453.39L617.17 459.49L617.17 461.15ZM610.12 458.48L610.12 456.82L617.17 462.99L617.17 464.65ZM610.12 461.98L610.12 460.32L617.17 466.49L617.17 468.15ZM610.12 465.48L610.12 463.82L617.17 469.99L617.17 471.65ZM610.12 468.98L610.12 467.32L617.17 473.49L617.17 475.15ZM610.12 472.48L610.12 470.82L617.17 476.99L617.17 478.65ZM610.12 475.98L610.12 474.32L617.17 480.49L617.17 482.15ZM616.60 485.15L610.12 479.48L610.12 477.82L617.17 483.99L617.17 485.15ZM612.60 485.15L610.12 482.98L610.12 481.32L614.50 485.15ZM610.12 485.15L610.12 484.82L610.50 485.15Z" fill="#000"/>
<rect x="610.12" y="453.39" width="7.05" height="31.76" fill="none" stroke="#000" stroke-width="1.0"/>
<rect x="622.25" y="400.45" width="7.05" height="84.70" fill="#fff" stroke="#000" stroke-width="1.0"/>
<rect x="622.25" y="463.97" width="7.05" height="21.18" fill="#fff"/>
<path d="M629.30 464.76L628.40 463.97L629.30 463.97ZM624.40 463.97L626.30 463.97L629.30 466.60L629.30 468.26ZM622.25 465.59L622.25 463.97L622.30 463.97L629.30 470.10L629.30 471.76ZM622.25 469.09L622.25 467.43L629.30 473.60L629.30 475.26ZM622.25 472.59L622.25 470.93L629.30 477.10L629.30 478.76ZM622.25 476.09L622.25 474.43L629.30 480.60L629.30 482.26ZM628.60 485.15L622.25 479.59L622.25 477.93L629.30 484.10L629.30 485.15ZM624.60 485.15L622.25 483.09L622.25 481.43L626.50 485.15ZM622.25 485.15L622.25 484.93L622.50 485.15Z" fill="#000"/>
<rect x="622.25" y="463.97" width="7.05" height="21.18" fill="none" stroke="#000" stroke-width="1.0"/>
<rect x="646.50" y="400.45" width="7.05" height="84.70" fill="#fff" stroke="#000" stroke-width="1.0"/>
<rect x="646.50" y="421.62" width="7.05" height="63.52" fill="#fff"/>
<path d="M653.55 422.98L652.00 421.62L653.55 421.62ZM648.00 421.62L649.90 421.62L653.55 424.82L653.55 426.48ZM646.50 423.81L646.50 422.15L653.55 428.32L653.55 429.98ZM646.50 427.31L646.50 425.65L653.55 431.82L653.55 433.48ZM646.50 430.81L646.50 429.15L653.55 435.32L653.55 436.98ZM646.50 434.31L646.50 432.65L653.55 438.82L653.55 440.48ZM646.50 437.81L646.50 436.15L653.55 442.32L653.55 443.98ZM646.50 441.31L646.50 439.65L653.55 445.82L653.55 447.48ZM646.50 444.81L646.50 443.15L653.55 449.32L653.55 450.98ZM646.50 448.31L646.50 446.65L653.55 452.82L653.55 454.48ZM646.50 451.81L646.50 450.15L653.55 456.32L653.55 457.98ZM646.50 455.31L646.50 453.65L653.55 459.82L653.55 461.48ZM646.50 458.81L646.50 457.15L653.55 463.32L653.55 464.98ZM646.50 462.31L646.50 460.65L653.55 466.82L653.55 468.48ZM646.50 465.81L646.50 464.15L653.55 470.32L653.55 471.98ZM646.50 469.31L646.50 467.65L653.55 473.82L653.55 475.48ZM646.50 472.81L646.50 471.15L653.55 477.32L653.55 478.98ZM646.50 476.31L646.50 474.65L653.55 480.82L653.55 482.48ZM652.60 485.15L646.50 479.81L646.50 478.15L653.55 484.32L653.55 485.15ZM648.60 485.15L646.50 483.31L646.50 481.65L650.50 485.15ZM646.50 485.15L646.50 485.15L646.50 485.15Z" fill="#000"/>
<rect x="646.50" y="421.62" width="7.05" height="63.52" fill="none" stroke="#000" stroke-width="1.0"/>
<rect x="658.62" y="400.45" width="7.05" height="84.70" fill="#fff" stroke="#000" stroke-width="1.0"/>
<rect x="658.62" y="442.80" width="7.05" height="42.35" fill="#fff"/>
<path d="M665.67 444.09L664.20 442.80L665.67 442.80ZM660.20 442.80L662.10 442.80L665.67 445.93L665.67 447.59ZM658.62 444.92L658.62 443.26L665.67 449.43L665.67 451.09ZM658.62 448.42L658.62 446.76L665.67 452.93L665.67 454.59ZM658.62 451.92L658.62 450.26L665.67 456.43L665.67 458.09ZM658.62 455.42L658.62 453.76L665.67 459.93L665.67 461.59ZM658.62 458.92L658.62 457.26L665.67 463.43L665.67 465.09ZM658.62 462.42L658.62 460.76L665.67 466.93L665.67 468.59ZM658.62 465.92L658.62 464.26L665.67 470.43L665.67 472.09ZM658.62 469.42L658.62 467.76L665.67 473.93L665.67 475.59ZM658.62 472.92L658.62 471.26L665.67 477.43L665.67 479.09ZM658.62 476.42L658.62 474.76L665.67 480.93L665.67 482.59ZM664.60 485.15L658.62 479.92L658.62 478.26L665.67 484.43L665.67 485.15ZM660.60 485.15L658.62 483.42L658.62 481.76L662.50 485.15Z" fill="#000"/>
<rect x="658.62" y="442.80" width="7.05" height="42.35" fill="none" stroke="#000" stroke-width="1.0"/>
<rect x="670.75" y="400.45" width="7.05" height="84.70" fill="#fff" stroke="#000" stroke-width="1.0"/>
<rect x="670.75" y="474.56" width="7.05" height="10.59" fill="#fff"/>
<path d="M677.80 475.70L676.50 474.56L677.80 474.56ZM672.50 474.56L674.40 474.56L677.80 477.54L677.80 479.20ZM670.75 476.53L670.75 474.87L677.80 481.04L677.80 482.70ZM676.60 485.15L670.75 480.03L670.75 478.37L677.80 484.54L677.80 485.15ZM672.60 485.15L670.75 483.53L670.75 481.87L674.50 485.15Z" fill="#000"/>
<rect x="670.75" y="474.56" width="7.05" height="10.59" fill="none" stroke="#000" stroke-width="1.0"/>
<line x1="507.95" y1="400.05" x2="507.95" y2="485.65" stroke="#333" stroke-width="0.7"/>
<line x1="505.55" y1="485.15" x2="682.55" y2="485.15" stroke="#000" stroke-width="1.1"/>
<line x1="505.55" y1="485.15" x2="507.95" y2="485.15" stroke="#000" stroke-width="0.9"/>
<text class="fs b" x="505.3" y="487.3" font-size="6.3" text-anchor="end" textLength="3.5" lengthAdjust="spacingAndGlyphs">0</text>
<line x1="505.55" y1="468.21" x2="507.95" y2="468.21" stroke="#000" stroke-width="0.9"/>
<text class="fs b" x="505.3" y="470.4" font-size="6.3" text-anchor="end" textLength="7.1" lengthAdjust="spacingAndGlyphs">20</text>
<line x1="505.55" y1="451.27" x2="507.95" y2="451.27" stroke="#000" stroke-width="0.9"/>
<text class="fs b" x="505.3" y="453.4" font-size="6.3" text-anchor="end" textLength="7.1" lengthAdjust="spacingAndGlyphs">40</text>
<line x1="505.55" y1="434.33" x2="507.95" y2="434.33" stroke="#000" stroke-width="0.9"/>
<text class="fs b" x="505.3" y="436.5" font-size="6.3" text-anchor="end" textLength="7.1" lengthAdjust="spacingAndGlyphs">60</text>
<line x1="505.55" y1="417.39" x2="507.95" y2="417.39" stroke="#000" stroke-width="0.9"/>
<text class="fs b" x="505.3" y="419.5" font-size="6.3" text-anchor="end" textLength="7.1" lengthAdjust="spacingAndGlyphs">80</text>
<line x1="505.55" y1="400.45" x2="507.95" y2="400.45" stroke="#000" stroke-width="0.9"/>
<text class="fs b" x="505.3" y="402.6" font-size="6.3" text-anchor="end" textLength="10.6" lengthAdjust="spacingAndGlyphs">100</text>
<line x1="516.85" y1="485.15" x2="516.85" y2="488.05" stroke="#111" stroke-width="0.8"/>
<text class="fs b" x="515.5" y="493.8" font-size="5.8" text-anchor="middle" stroke="#000" stroke-width="0.12">1</text>
<line x1="528.98" y1="485.15" x2="528.98" y2="488.05" stroke="#111" stroke-width="0.8"/>
<text class="fs b" x="527.7" y="493.8" font-size="5.8" text-anchor="middle" stroke="#000" stroke-width="0.12">2</text>
<line x1="541.10" y1="485.15" x2="541.10" y2="488.05" stroke="#111" stroke-width="0.8"/>
<text class="fs b" x="539.8" y="493.8" font-size="5.8" text-anchor="middle" stroke="#000" stroke-width="0.12">3</text>
<line x1="553.23" y1="485.15" x2="553.23" y2="488.05" stroke="#111" stroke-width="0.8"/>
<text class="fs b" x="551.9" y="493.8" font-size="5.8" text-anchor="middle" stroke="#000" stroke-width="0.12">4</text>
<line x1="565.35" y1="485.15" x2="565.35" y2="488.05" stroke="#111" stroke-width="0.8"/>
<text class="fs b" x="564.0" y="493.8" font-size="5.8" text-anchor="middle" stroke="#000" stroke-width="0.12">5</text>
<line x1="577.48" y1="485.15" x2="577.48" y2="488.05" stroke="#111" stroke-width="0.8"/>
<text class="fs b" x="576.2" y="493.8" font-size="5.8" text-anchor="middle" stroke="#000" stroke-width="0.12">6</text>
<line x1="589.60" y1="485.15" x2="589.60" y2="488.05" stroke="#111" stroke-width="0.8"/>
<text class="fs b" x="588.3" y="493.8" font-size="5.8" text-anchor="middle" stroke="#000" stroke-width="0.12">7</text>
<line x1="601.73" y1="485.15" x2="601.73" y2="488.05" stroke="#111" stroke-width="0.8"/>
<text class="fs b" x="600.4" y="493.8" font-size="5.8" text-anchor="middle" stroke="#000" stroke-width="0.12">8</text>
<line x1="613.85" y1="485.15" x2="613.85" y2="488.05" stroke="#111" stroke-width="0.8"/>
<text class="fs b" x="612.5" y="493.8" font-size="5.8" text-anchor="middle" stroke="#000" stroke-width="0.12">9</text>
<line x1="625.98" y1="485.15" x2="625.98" y2="488.05" stroke="#111" stroke-width="0.8"/>
<text class="fs b" x="624.7" y="493.8" font-size="5.8" text-anchor="middle" stroke="#000" stroke-width="0.12">10</text>
<line x1="638.10" y1="485.15" x2="638.10" y2="488.05" stroke="#111" stroke-width="0.8"/>
<line x1="650.23" y1="485.15" x2="650.23" y2="488.05" stroke="#111" stroke-width="0.8"/>
<text class="fs b" x="648.9" y="493.8" font-size="5.8" text-anchor="middle" stroke="#000" stroke-width="0.12">1</text>
<line x1="662.35" y1="485.15" x2="662.35" y2="488.05" stroke="#111" stroke-width="0.8"/>
<text class="fs b" x="661.0" y="493.8" font-size="5.8" text-anchor="middle" stroke="#000" stroke-width="0.12">2</text>
<line x1="674.48" y1="485.15" x2="674.48" y2="488.05" stroke="#111" stroke-width="0.8"/>
<text class="fs b" x="673.2" y="493.8" font-size="5.8" text-anchor="middle" stroke="#000" stroke-width="0.12">3</text>
<text class="fs b" x="574.8" y="501.6" font-size="5.7" text-anchor="middle" textLength="50.3" lengthAdjust="spacingAndGlyphs" stroke="#000" stroke-width="0.12">Acquisition Learning</text>
<text class="fs b" x="574.8" y="507.2" font-size="5.7" text-anchor="middle" textLength="18.3" lengthAdjust="spacingAndGlyphs" stroke="#000" stroke-width="0.12">Session</text>
<text class="fs b" x="662.5" y="500.8" font-size="5.7" text-anchor="middle" textLength="42.8" lengthAdjust="spacingAndGlyphs" stroke="#000" stroke-width="0.12">Reversal Learning</text>
<text class="fs b" x="662.5" y="506.3" font-size="5.7" text-anchor="middle" textLength="18.3" lengthAdjust="spacingAndGlyphs" stroke="#000" stroke-width="0.12">Session</text>
<text class="fs" x="594.4" y="370.1" font-size="11.7" text-anchor="middle" textLength="127.6" lengthAdjust="spacingAndGlyphs" stroke="#000" stroke-width="0.2" xml:space="preserve">Female 0.03%  Aspartame</text>
<rect x="537.30" y="388.35" width="7.20" height="3.5" fill="#000"/>
<rect x="538.30" y="389.30" width="5.20" height="1.6" fill="#fff"/>
<text class="fn" x="548.4" y="392.1" font-size="5.9" textLength="16.7" lengthAdjust="spacingAndGlyphs" stroke="#000" stroke-width="0.2">Spatial</text>
<rect x="576.90" y="388.35" width="7.80" height="3.5" fill="#000"/>
<rect x="580.95" y="389.85" width="1.5" height="1.0" fill="#fff"/>
<rect x="577.90" y="389.90" width="1.7" height="0.9" fill="#8a8a8a"/>
<text class="fn" x="588.4" y="392.1" font-size="5.9" textLength="14.1" lengthAdjust="spacingAndGlyphs" stroke="#000" stroke-width="0.2">Serial</text>
<rect x="614.40" y="388.35" width="7.20" height="3.5" fill="#000"/>
<rect x="615.40" y="389.30" width="5.20" height="1.6" fill="#7f7f7f"/>
<text class="fn" x="625.4" y="392.1" font-size="5.9" textLength="20.3" lengthAdjust="spacingAndGlyphs" stroke="#000" stroke-width="0.2">Random</text>
<text class="fs b" font-size="7.4" text-anchor="middle" textLength="38.7" lengthAdjust="spacingAndGlyphs" transform="translate(491.8,442.8) rotate(-90)">Strategy (%)</text>
<text class="fs" x="135.8" y="533.7" font-size="11.7" text-anchor="middle" textLength="52.5" lengthAdjust="spacingAndGlyphs" stroke="#000" stroke-width="0.2">Probe Trial</text>
<line x1="103.40" y1="565.82" x2="103.40" y2="569.59" stroke="#333" stroke-width="0.8"/>
<line x1="100.40" y1="565.82" x2="106.40" y2="565.82" stroke="#333" stroke-width="0.8"/>
<line x1="119.20" y1="571.72" x2="119.20" y2="575.55" stroke="#333" stroke-width="0.8"/>
<line x1="116.20" y1="571.72" x2="122.20" y2="571.72" stroke="#333" stroke-width="0.8"/>
<line x1="145.40" y1="566.71" x2="145.40" y2="570.48" stroke="#333" stroke-width="0.8"/>
<line x1="142.40" y1="566.71" x2="148.40" y2="566.71" stroke="#333" stroke-width="0.8"/>
<line x1="161.40" y1="569.93" x2="161.40" y2="574.05" stroke="#333" stroke-width="0.8"/>
<line x1="158.40" y1="569.93" x2="164.40" y2="569.93" stroke="#333" stroke-width="0.8"/>
<rect x="98.20" y="569.59" width="10.40" height="78.61" fill="#000"/>
<rect x="114.65" y="576.20" width="9.10" height="72.00" fill="#fff" stroke="#000" stroke-width="1.3"/>
<rect x="140.20" y="570.48" width="10.40" height="77.72" fill="#000"/>
<rect x="156.85" y="574.70" width="9.10" height="73.50" fill="#fff" stroke="#000" stroke-width="1.3"/>
<line x1="93.50" y1="544.90" x2="93.50" y2="648.80" stroke="#6a6a6a" stroke-width="1.0"/>
<line x1="88.60" y1="648.20" x2="171.70" y2="648.20" stroke="#000" stroke-width="1.25"/>
<line x1="88.60" y1="648.20" x2="92.80" y2="648.20" stroke="#000" stroke-width="1.0"/>
<text class="fs" x="87.2" y="650.9" font-size="8.2" text-anchor="end" textLength="4.5" lengthAdjust="spacingAndGlyphs" fill="#2a2a2a">0</text>
<line x1="88.60" y1="613.93" x2="92.80" y2="613.93" stroke="#000" stroke-width="1.0"/>
<text class="fs" x="87.2" y="616.6" font-size="8.2" text-anchor="end" textLength="9.0" lengthAdjust="spacingAndGlyphs" fill="#2a2a2a">50</text>
<line x1="88.60" y1="579.67" x2="92.80" y2="579.67" stroke="#000" stroke-width="1.0"/>
<text class="fs" x="87.2" y="582.4" font-size="8.2" text-anchor="end" textLength="13.5" lengthAdjust="spacingAndGlyphs" fill="#2a2a2a">100</text>
<line x1="88.60" y1="545.40" x2="92.80" y2="545.40" stroke="#000" stroke-width="1.0"/>
<text class="fs" x="87.2" y="548.1" font-size="8.2" text-anchor="end" textLength="13.5" lengthAdjust="spacingAndGlyphs" fill="#2a2a2a">150</text>
<text class="fs b" x="108.5" y="662.0" font-size="9.2" text-anchor="middle" textLength="18.4" lengthAdjust="spacingAndGlyphs">Male</text>
<text class="fs b" x="152.1" y="662.0" font-size="9.2" text-anchor="middle" textLength="28.6" lengthAdjust="spacingAndGlyphs">Female</text>
<text class="fs b" font-size="8.4" text-anchor="middle" textLength="107.0" lengthAdjust="spacingAndGlyphs" transform="translate(58.3,596.2) rotate(-90)">Time in target quadrant(s)</text>
<text class="fs b" font-size="8.4" text-anchor="middle" textLength="41.0" lengthAdjust="spacingAndGlyphs" transform="translate(68.4,596.2) rotate(-90)">Mean ± SE</text>
<text class="fs" x="294.3" y="533.7" font-size="11.7" text-anchor="middle" textLength="70.1" lengthAdjust="spacingAndGlyphs" stroke="#000" stroke-width="0.2">Reversal Error</text>
<line x1="263.30" y1="561.54" x2="263.30" y2="566.68" stroke="#333" stroke-width="0.8"/>
<line x1="260.30" y1="561.54" x2="266.30" y2="561.54" stroke="#333" stroke-width="0.8"/>
<line x1="278.80" y1="560.31" x2="278.80" y2="565.96" stroke="#333" stroke-width="0.8"/>
<line x1="275.80" y1="560.31" x2="281.80" y2="560.31" stroke="#333" stroke-width="0.8"/>
<line x1="305.10" y1="560.31" x2="305.10" y2="565.96" stroke="#333" stroke-width="0.8"/>
<line x1="302.10" y1="560.31" x2="308.10" y2="560.31" stroke="#333" stroke-width="0.8"/>
<line x1="320.80" y1="562.36" x2="320.80" y2="568.02" stroke="#333" stroke-width="0.8"/>
<line x1="317.80" y1="562.36" x2="323.80" y2="562.36" stroke="#333" stroke-width="0.8"/>
<rect x="258.10" y="566.68" width="10.40" height="81.52" fill="#000"/>
<rect x="274.25" y="566.61" width="9.10" height="81.59" fill="#fff" stroke="#000" stroke-width="1.3"/>
<rect x="299.90" y="565.96" width="10.40" height="82.24" fill="#000"/>
<rect x="316.25" y="568.67" width="9.10" height="79.53" fill="#fff" stroke="#000" stroke-width="1.3"/>
<line x1="252.50" y1="544.90" x2="252.50" y2="648.80" stroke="#000" stroke-width="1.2"/>
<line x1="248.30" y1="648.20" x2="331.60" y2="648.20" stroke="#000" stroke-width="1.25"/>
<line x1="248.30" y1="648.20" x2="252.50" y2="648.20" stroke="#000" stroke-width="1.0"/>
<text class="fs" x="247.0" y="650.9" font-size="8.2" text-anchor="end" textLength="4.5" lengthAdjust="spacingAndGlyphs" fill="#2a2a2a">0</text>
<line x1="248.30" y1="627.64" x2="252.50" y2="627.64" stroke="#000" stroke-width="1.0"/>
<text class="fs" x="247.0" y="630.3" font-size="8.2" text-anchor="end" textLength="4.5" lengthAdjust="spacingAndGlyphs" fill="#2a2a2a">2</text>
<line x1="248.30" y1="607.08" x2="252.50" y2="607.08" stroke="#000" stroke-width="1.0"/>
<text class="fs" x="247.0" y="609.8" font-size="8.2" text-anchor="end" textLength="4.5" lengthAdjust="spacingAndGlyphs" fill="#2a2a2a">4</text>
<line x1="248.30" y1="586.52" x2="252.50" y2="586.52" stroke="#000" stroke-width="1.0"/>
<text class="fs" x="247.0" y="589.2" font-size="8.2" text-anchor="end" textLength="4.5" lengthAdjust="spacingAndGlyphs" fill="#2a2a2a">6</text>
<line x1="248.30" y1="565.96" x2="252.50" y2="565.96" stroke="#000" stroke-width="1.0"/>
<text class="fs" x="247.0" y="568.7" font-size="8.2" text-anchor="end" textLength="4.5" lengthAdjust="spacingAndGlyphs" fill="#2a2a2a">8</text>
<line x1="248.30" y1="545.40" x2="252.50" y2="545.40" stroke="#000" stroke-width="1.0"/>
<text class="fs" x="247.0" y="548.1" font-size="8.2" text-anchor="end" textLength="9.0" lengthAdjust="spacingAndGlyphs" fill="#2a2a2a">10</text>
<text class="fs b" x="268.0" y="662.0" font-size="9.2" text-anchor="middle" textLength="18.7" lengthAdjust="spacingAndGlyphs">Male</text>
<text class="fs b" x="311.5" y="662.0" font-size="9.2" text-anchor="middle" textLength="28.6" lengthAdjust="spacingAndGlyphs">Female</text>
<text class="fs b" font-size="8.4" text-anchor="middle" textLength="22.2" lengthAdjust="spacingAndGlyphs" transform="translate(222.0,596.0) rotate(-90)">Error</text>
<text class="fs b" font-size="8.4" text-anchor="middle" textLength="41.0" lengthAdjust="spacingAndGlyphs" transform="translate(232.2,596.0) rotate(-90)">Mean ± SE</text>
<text class="fs" x="473.4" y="534.1" font-size="11.7" text-anchor="middle" textLength="81.6" lengthAdjust="spacingAndGlyphs" stroke="#000" stroke-width="0.2">Reversal Latency</text>
<line x1="438.60" y1="552.61" x2="438.60" y2="558.50" stroke="#333" stroke-width="0.8"/>
<line x1="435.60" y1="552.61" x2="441.60" y2="552.61" stroke="#333" stroke-width="0.8"/>
<line x1="454.10" y1="552.61" x2="454.10" y2="558.20" stroke="#333" stroke-width="0.8"/>
<line x1="451.10" y1="552.61" x2="457.10" y2="552.61" stroke="#333" stroke-width="0.8"/>
<line x1="479.60" y1="550.17" x2="479.60" y2="555.86" stroke="#333" stroke-width="0.8"/>
<line x1="476.60" y1="550.17" x2="482.60" y2="550.17" stroke="#333" stroke-width="0.8"/>
<line x1="495.00" y1="551.60" x2="495.00" y2="556.88" stroke="#333" stroke-width="0.8"/>
<line x1="492.00" y1="551.60" x2="498.00" y2="551.60" stroke="#333" stroke-width="0.8"/>
<rect x="433.40" y="558.50" width="10.40" height="88.60" fill="#000"/>
<rect x="449.55" y="558.85" width="9.10" height="88.25" fill="#fff" stroke="#000" stroke-width="1.3"/>
<rect x="474.40" y="555.86" width="10.40" height="91.24" fill="#000"/>
<rect x="490.45" y="557.53" width="9.10" height="89.57" fill="#fff" stroke="#000" stroke-width="1.3"/>
<line x1="427.60" y1="545.00" x2="427.60" y2="647.70" stroke="#000" stroke-width="1.2"/>
<line x1="423.40" y1="647.10" x2="505.80" y2="647.10" stroke="#000" stroke-width="1.25"/>
<line x1="423.40" y1="647.10" x2="427.60" y2="647.10" stroke="#000" stroke-width="1.0"/>
<text class="fs" x="422.6" y="649.8" font-size="8.2" text-anchor="end" textLength="4.5" lengthAdjust="spacingAndGlyphs" fill="#2a2a2a">0</text>
<line x1="423.40" y1="626.78" x2="427.60" y2="626.78" stroke="#000" stroke-width="1.0"/>
<text class="fs" x="422.6" y="629.5" font-size="8.2" text-anchor="end" textLength="9.0" lengthAdjust="spacingAndGlyphs" fill="#2a2a2a">20</text>
<line x1="423.40" y1="606.46" x2="427.60" y2="606.46" stroke="#000" stroke-width="1.0"/>
<text class="fs" x="422.6" y="609.2" font-size="8.2" text-anchor="end" textLength="9.0" lengthAdjust="spacingAndGlyphs" fill="#2a2a2a">40</text>
<line x1="423.40" y1="586.14" x2="427.60" y2="586.14" stroke="#000" stroke-width="1.0"/>
<text class="fs" x="422.6" y="588.8" font-size="8.2" text-anchor="end" textLength="9.0" lengthAdjust="spacingAndGlyphs" fill="#2a2a2a">60</text>
<line x1="423.40" y1="565.82" x2="427.60" y2="565.82" stroke="#000" stroke-width="1.0"/>
<text class="fs" x="422.6" y="568.5" font-size="8.2" text-anchor="end" textLength="9.0" lengthAdjust="spacingAndGlyphs" fill="#2a2a2a">80</text>
<line x1="423.40" y1="545.50" x2="427.60" y2="545.50" stroke="#000" stroke-width="1.0"/>
<text class="fs" x="422.6" y="548.2" font-size="8.2" text-anchor="end" textLength="13.5" lengthAdjust="spacingAndGlyphs" fill="#2a2a2a">100</text>
<text class="fs b" x="446.2" y="659.7" font-size="8.8" text-anchor="middle" textLength="18.4" lengthAdjust="spacingAndGlyphs">Male</text>
<text class="fs b" x="487.3" y="659.7" font-size="8.8" text-anchor="middle" textLength="28.2" lengthAdjust="spacingAndGlyphs">Female</text>
<text class="fs b" font-size="8.4" text-anchor="middle" textLength="43.2" lengthAdjust="spacingAndGlyphs" transform="translate(393.2,595.6) rotate(-90)">Latency (s)</text>
<text class="fs b" font-size="8.4" text-anchor="middle" textLength="39.6" lengthAdjust="spacingAndGlyphs" transform="translate(404.5,595.6) rotate(-90)">Mean ± SE</text>
<rect x="528.50" y="550.00" width="11.00" height="5.40" fill="#000"/>
<text class="fs" x="545.1" y="555.6" font-size="8.7" textLength="27.9" lengthAdjust="spacingAndGlyphs" stroke="#000" stroke-width="0.12">Control</text>
<rect x="529.15" y="564.95" width="9.70" height="4.20" fill="#fff" stroke="#000" stroke-width="1.3"/>
<text class="fs" x="545.1" y="569.7" font-size="8.7" textLength="63.8" lengthAdjust="spacingAndGlyphs" stroke="#000" stroke-width="0.12">0.03% Aspartame</text>
</svg></body></html>
